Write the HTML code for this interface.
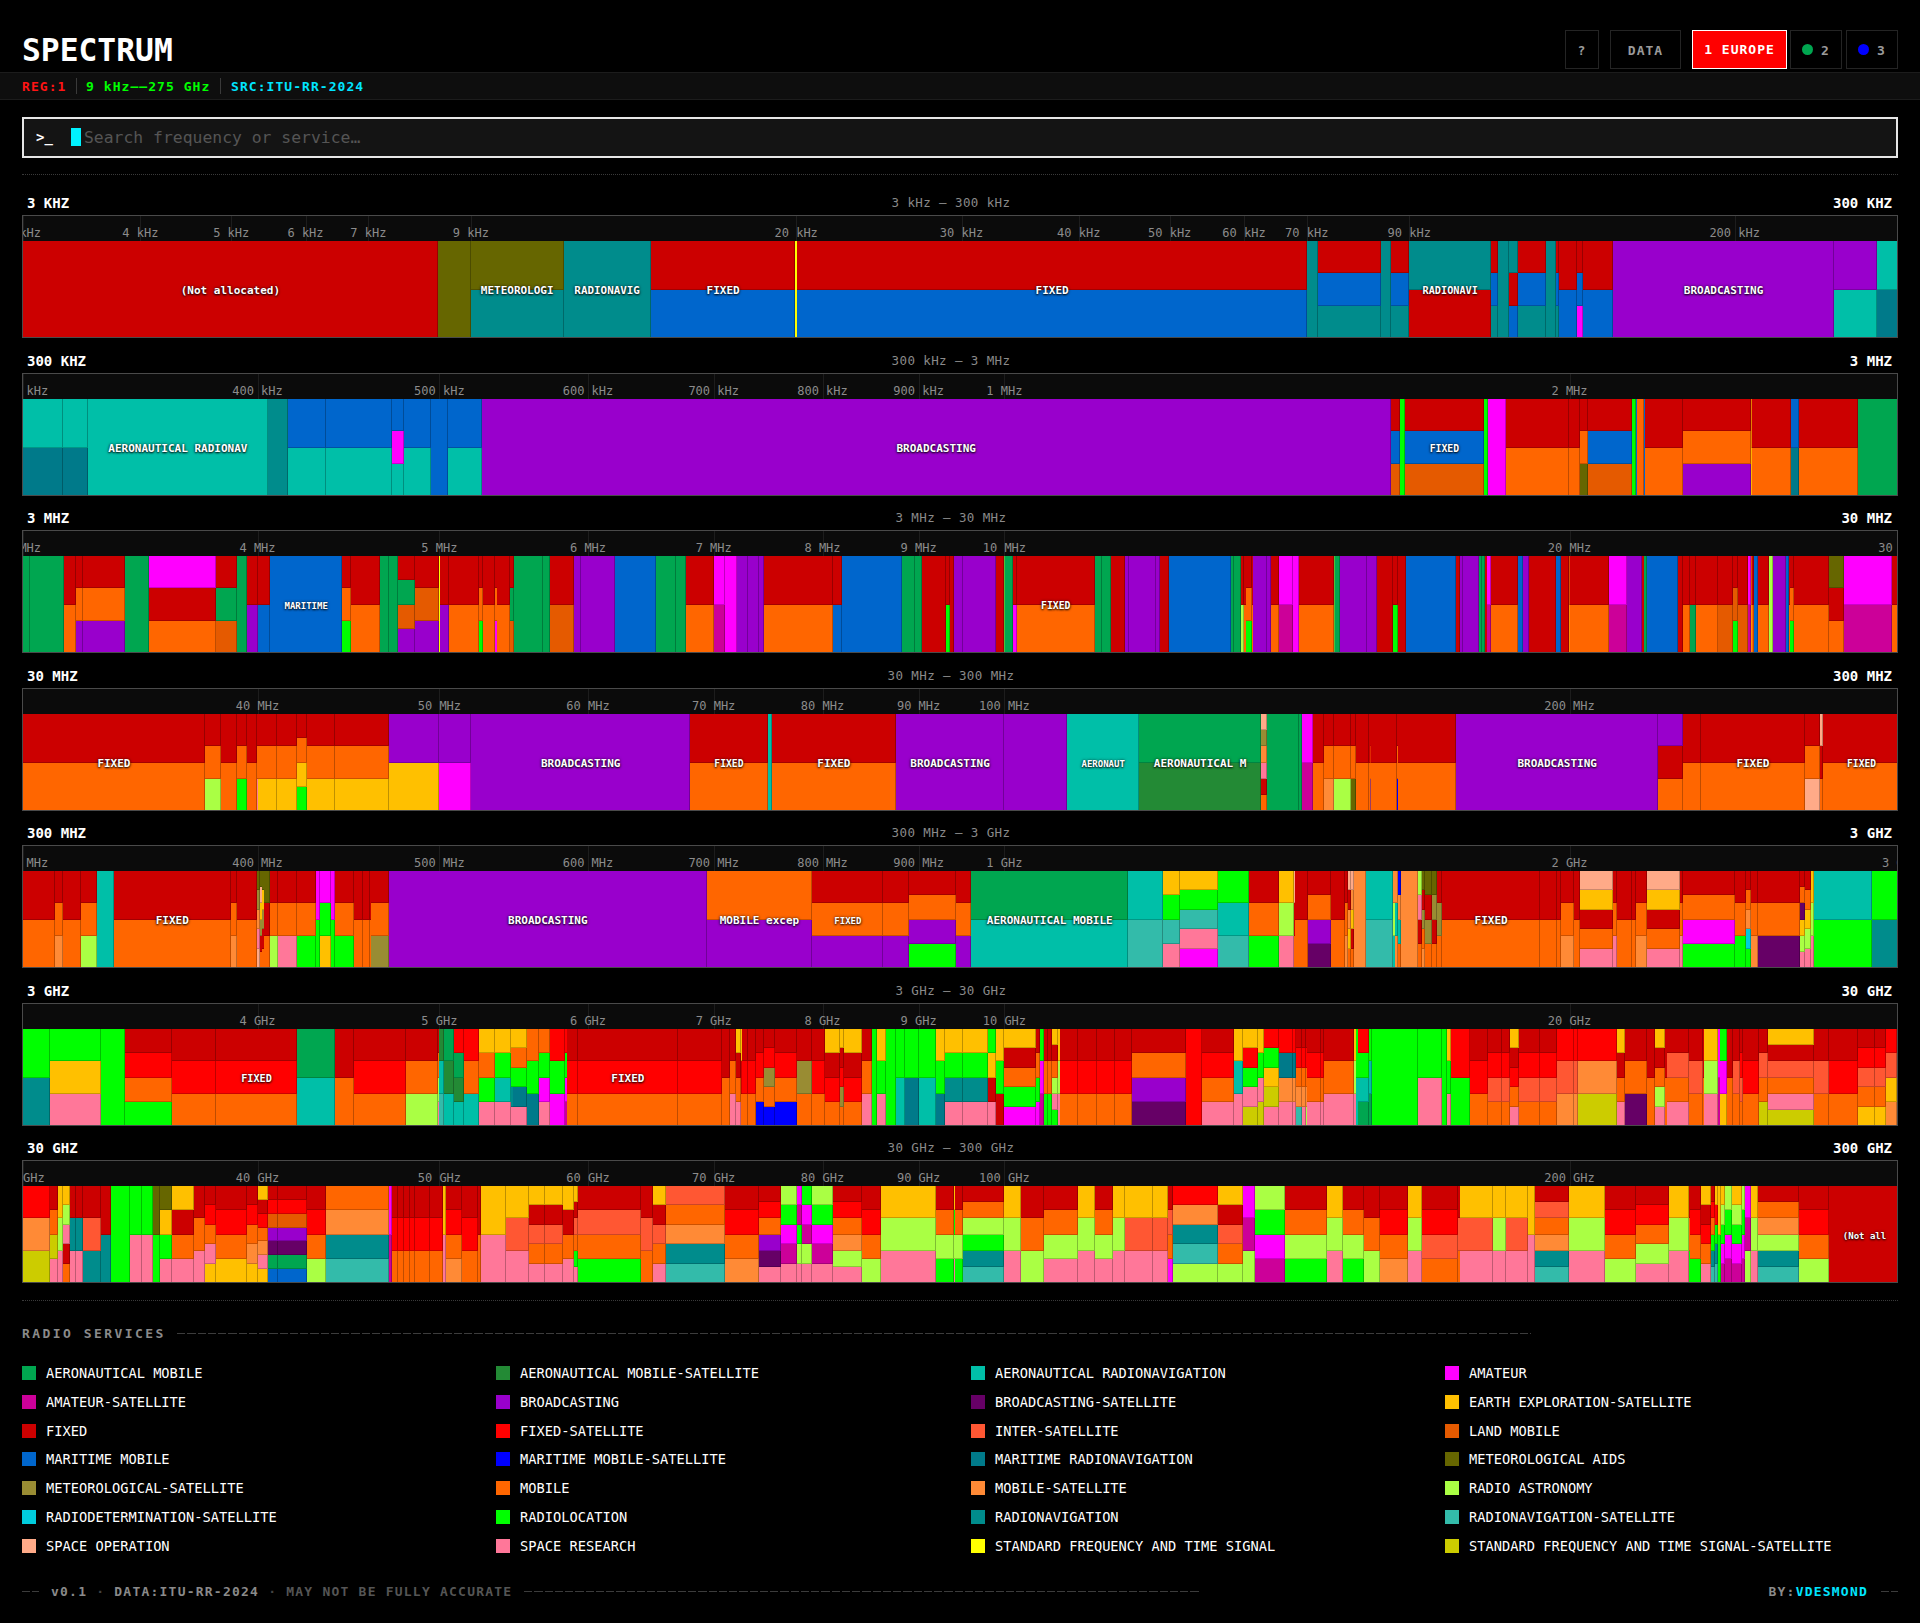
<!DOCTYPE html><html lang="en"><head><meta charset="utf-8"><title>SPECTRUM</title><style>

*{box-sizing:border-box;margin:0;padding:0}
html,body{background:#000;color:#fff;width:1920px;height:1623px;overflow:hidden}
body{font-family:"DejaVu Sans Mono","Liberation Mono",monospace;position:relative;font-size:12px}
.abs{position:absolute}
h1{position:absolute;left:22px;top:30px;font-size:31.3px;line-height:40px;font-weight:700;letter-spacing:0;white-space:nowrap}
.btn{position:absolute;top:30px;height:39px;border:1px solid #242424;background:#000;color:#9a9a9a;font-weight:700;font-size:13px;line-height:39px;text-align:center;letter-spacing:1px;white-space:nowrap}
.btn.on{background:#ff0000;color:#fff;border:1.5px solid #fff}
.dot{display:inline-block;width:11px;height:11px;border-radius:50%;vertical-align:0px;margin-right:8px}
.status{position:absolute;left:0;top:72px;width:1920px;height:28px;background:#0e0e0e;border-top:1px solid #1c1c1c;border-bottom:1px solid #1c1c1c}
.status span{position:absolute;top:0;line-height:28px;font-size:13px;font-weight:700;letter-spacing:1.05px;white-space:nowrap}
.status i{position:absolute;top:5px;width:1px;height:16px;background:#3a3a3a}
.search{position:absolute;left:22px;top:117px;width:1876px;height:41px;border:2px solid #e6e6e6;background:#141414}
.search .p{position:absolute;left:12px;top:0;line-height:37px;font-size:14px;font-weight:700;color:#fff}
.search .c{position:absolute;left:47px;top:9px;width:10px;height:18px;background:#00f2ff}
.search .t{position:absolute;left:60px;top:0;line-height:38px;font-size:16.4px;color:#555;white-space:nowrap}
.dots{position:absolute;left:22px;width:1876px;height:0;border-top:1px dotted #3a3a3a}
.bl{position:absolute;font-size:14px;font-weight:700;letter-spacing:0;line-height:16px;white-space:nowrap;color:#fff}
.bm{position:absolute;font-size:12.5px;letter-spacing:.4px;line-height:16px;white-space:nowrap;color:#8a8a8a;text-align:center;width:300px}
.box{position:absolute;left:22px;width:1876px;height:123px;border:1px solid #4a4a4a;background:#0b0b0b;overflow:hidden}
.ax{position:absolute;left:0;top:0;width:1874px;height:25px;background:#0b0b0b;overflow:hidden}
.tk{position:absolute;top:0;width:1px;height:25px;background:#1d1d1d}
.tl{position:absolute;top:9px;width:80px;margin-left:-40px;text-align:center;font-size:12px;line-height:16px;color:#8c8c8c;white-space:nowrap}
.bk{position:absolute;left:0;top:25px;width:1874px;height:96px;overflow:hidden}
.b{position:absolute;top:0;height:96px;display:flex;flex-direction:column}
.b>i{flex:1 1 0;display:block;border-bottom:1px solid rgba(0,0,0,.2);border-right:1px solid rgba(0,0,0,.25)}
.b.n>i{border-right:0}
.b>i:last-child{border-bottom:0}
.lb{position:absolute;top:0;height:96px;line-height:100px;text-align:center;font-weight:700;color:#fff;white-space:nowrap;text-shadow:0 1px 2px rgba(0,0,0,.9),0 0 3px rgba(0,0,0,.7);overflow:hidden}
.rs{position:absolute;left:22px;top:1326px;font-size:13px;font-weight:700;letter-spacing:2.45px;color:#8a8a8a;line-height:16px;white-space:nowrap}
.dash{position:absolute;height:1px;background:repeating-linear-gradient(90deg,#3c3c3c 0,#3c3c3c 8.3px,transparent 8.3px,transparent 10.25px)}
.lg{position:absolute;white-space:nowrap;font-size:13.7px;line-height:16px;color:#fff;letter-spacing:0}
.lg i{position:absolute;left:0;top:1px;width:14px;height:14px}
.lg span{position:absolute;left:24px;top:0}
.ft{position:absolute;top:1583.6px;font-size:13px;font-weight:700;letter-spacing:1.22px;line-height:16px;white-space:nowrap}

</style></head><body>
<h1>SPECTRUM</h1>
<div class="btn" style="left:1565px;width:34px">?</div>
<div class="btn" style="left:1610px;width:71px">DATA</div>
<div class="btn on" style="left:1692px;width:95px;line-height:38px">1 EUROPE</div>
<div class="btn" style="left:1790px;width:52px"><span class="dot" style="background:#00a650"></span>2</div>
<div class="btn" style="left:1846px;width:52px"><span class="dot" style="background:#0000ff"></span>3</div>
<div class="status"><span style="left:22px;color:#ff1414">REG:1</span><i style="left:76px"></i><span style="left:86px;color:#00ff00">9 kHz——275 GHz</span><i style="left:220px"></i><span style="left:231px;color:#00e5ff">SRC:ITU-RR-2024</span></div>
<div class="search"><span class="p">&gt;_</span><span class="c"></span><span class="t">Search frequency or service…</span></div>
<div class="dots" style="top:174px"></div>
<div class="bl" style="left:27px;top:194.5px">3 KHZ</div>
<div class="bm" style="left:801px;top:194.5px">3 kHz – 300 kHz</div>
<div class="bl" style="right:28px;top:194.5px;text-align:right">300 KHZ</div>
<div class="box" style="top:215px">
<div class="ax">
<b class="tk" style="left:0.0px"></b><span class="tl" style="left:0.0px">3 kHz</span>
<b class="tk" style="left:117.3px"></b><span class="tl" style="left:117.3px">4 kHz</span>
<b class="tk" style="left:208.2px"></b><span class="tl" style="left:208.2px">5 kHz</span>
<b class="tk" style="left:282.5px"></b><span class="tl" style="left:282.5px">6 kHz</span>
<b class="tk" style="left:345.3px"></b><span class="tl" style="left:345.3px">7 kHz</span>
<b class="tk" style="left:447.8px"></b><span class="tl" style="left:447.8px">9 kHz</span>
<b class="tk" style="left:773.2px"></b><span class="tl" style="left:773.2px">20 kHz</span>
<b class="tk" style="left:938.5px"></b><span class="tl" style="left:938.5px">30 kHz</span>
<b class="tk" style="left:1055.8px"></b><span class="tl" style="left:1055.8px">40 kHz</span>
<b class="tk" style="left:1146.7px"></b><span class="tl" style="left:1146.7px">50 kHz</span>
<b class="tk" style="left:1221.0px"></b><span class="tl" style="left:1221.0px">60 kHz</span>
<b class="tk" style="left:1283.8px"></b><span class="tl" style="left:1283.8px">70 kHz</span>
<b class="tk" style="left:1386.3px"></b><span class="tl" style="left:1386.3px">90 kHz</span>
<b class="tk" style="left:1711.7px"></b><span class="tl" style="left:1711.7px">200 kHz</span>
</div><div class="bk">
<div class="b" style="left:0px;width:415px"><i style="background:#cc0000"></i></div>
<div class="b" style="left:415px;width:33px"><i style="background:#666600"></i></div>
<div class="b" style="left:448px;width:93px"><i style="background:#666600"></i><i style="background:#008c8c"></i></div>
<div class="b" style="left:541px;width:87px"><i style="background:#008c8c"></i></div>
<div class="b" style="left:628px;width:144px"><i style="background:#cc0000"></i><i style="background:#0066cc"></i></div>
<div class="b n" style="left:772px;width:2px"><i style="background:#ffff00"></i></div>
<div class="b" style="left:774px;width:510px"><i style="background:#cc0000"></i><i style="background:#0066cc"></i></div>
<div class="b" style="left:1284px;width:11px"><i style="background:#008c8c"></i></div>
<div class="b" style="left:1295px;width:63px"><i style="background:#cc0000"></i><i style="background:#0066cc"></i><i style="background:#008c8c"></i></div>
<div class="b" style="left:1358px;width:10px"><i style="background:#008c8c"></i></div>
<div class="b" style="left:1368px;width:18px"><i style="background:#cc0000"></i><i style="background:#0066cc"></i><i style="background:#008c8c"></i></div>
<div class="b" style="left:1386px;width:82px"><i style="background:#008c8c"></i><i style="background:#cc0000"></i></div>
<div class="b" style="left:1468px;width:7px"><i style="background:#cc0000"></i><i style="background:#0066cc"></i><i style="background:#008c8c"></i></div>
<div class="b" style="left:1475px;width:11px"><i style="background:#008c8c"></i></div>
<div class="b" style="left:1486px;width:9px"><i style="background:#008c8c"></i><i style="background:#cc0000"></i><i style="background:#0066cc"></i></div>
<div class="b" style="left:1495px;width:28px"><i style="background:#cc0000"></i><i style="background:#0066cc"></i><i style="background:#008c8c"></i></div>
<div class="b" style="left:1523px;width:10px"><i style="background:#008c8c"></i></div>
<div class="b" style="left:1533px;width:3px"><i style="background:#cc0000"></i><i style="background:#0066cc"></i><i style="background:#008c8c"></i></div>
<div class="b" style="left:1536px;width:18px"><i style="background:#cc0000"></i><i style="background:#0066cc"></i></div>
<div class="b" style="left:1554px;width:6px"><i style="background:#cc0000"></i><i style="background:#0066cc"></i><i style="background:#ff00ff"></i></div>
<div class="b" style="left:1560px;width:30px"><i style="background:#cc0000"></i><i style="background:#0066cc"></i></div>
<div class="b" style="left:1590px;width:221px"><i style="background:#9900cc"></i></div>
<div class="b" style="left:1811px;width:43px"><i style="background:#9900cc"></i><i style="background:#00bfa8"></i></div>
<div class="b" style="left:1854px;width:43px"><i style="background:#00bfa8"></i><i style="background:#007a8a"></i></div>
<div class="lb" style="left:0.0px;width:414.8px;font-size:11.0px">(Not allocated)</div>
<div class="lb" style="left:447.8px;width:92.8px;font-size:11.0px">METEOROLOGI</div>
<div class="lb" style="left:540.5px;width:87.3px;font-size:10.9px">RADIONAVIG</div>
<div class="lb" style="left:627.9px;width:144.4px;font-size:11.0px">FIXED</div>
<div class="lb" style="left:774.3px;width:509.6px;font-size:11.0px">FIXED</div>
<div class="lb" style="left:1386.3px;width:81.8px;font-size:10.2px">RADIONAVI</div>
<div class="lb" style="left:1590.4px;width:220.4px;font-size:11.0px">BROADCASTING</div>
</div></div>
<div class="bl" style="left:27px;top:352.5px">300 KHZ</div>
<div class="bm" style="left:801px;top:352.5px">300 kHz – 3 MHz</div>
<div class="bl" style="right:28px;top:352.5px;text-align:right">3 MHZ</div>
<div class="box" style="top:373px">
<div class="ax">
<b class="tk" style="left:0.0px"></b><span class="tl" style="left:0.0px">300 kHz</span>
<b class="tk" style="left:234.5px"></b><span class="tl" style="left:234.5px">400 kHz</span>
<b class="tk" style="left:416.4px"></b><span class="tl" style="left:416.4px">500 kHz</span>
<b class="tk" style="left:565.0px"></b><span class="tl" style="left:565.0px">600 kHz</span>
<b class="tk" style="left:690.7px"></b><span class="tl" style="left:690.7px">700 kHz</span>
<b class="tk" style="left:799.5px"></b><span class="tl" style="left:799.5px">800 kHz</span>
<b class="tk" style="left:895.6px"></b><span class="tl" style="left:895.6px">900 kHz</span>
<b class="tk" style="left:981.4px"></b><span class="tl" style="left:981.4px">1 MHz</span>
<b class="tk" style="left:1546.5px"></b><span class="tl" style="left:1546.5px">2 MHz</span>
</div><div class="bk">
<div class="b" style="left:0px;width:40px"><i style="background:#00bfa8"></i><i style="background:#007a8a"></i></div>
<div class="b" style="left:40px;width:25px"><i style="background:#00bfa8"></i><i style="background:#007a8a"></i></div>
<div class="b" style="left:65px;width:180px"><i style="background:#00bfa8"></i></div>
<div class="b" style="left:245px;width:20px"><i style="background:#008c8c"></i></div>
<div class="b" style="left:265px;width:38px"><i style="background:#0066cc"></i><i style="background:#00bfa8"></i></div>
<div class="b" style="left:303px;width:66px"><i style="background:#0066cc"></i><i style="background:#00bfa8"></i></div>
<div class="b" style="left:369px;width:12px"><i style="background:#0066cc"></i><i style="background:#ff00ff"></i><i style="background:#00bfa8"></i></div>
<div class="b" style="left:381px;width:27px"><i style="background:#0066cc"></i><i style="background:#00bfa8"></i></div>
<div class="b" style="left:408px;width:17px"><i style="background:#0066cc"></i></div>
<div class="b" style="left:425px;width:34px"><i style="background:#0066cc"></i><i style="background:#00bfa8"></i></div>
<div class="b" style="left:459px;width:909px"><i style="background:#9900cc"></i></div>
<div class="b" style="left:1368px;width:9px"><i style="background:#cc0000"></i><i style="background:#0066cc"></i><i style="background:#e55a00"></i></div>
<div class="b" style="left:1377px;width:5px"><i style="background:#00ff00"></i></div>
<div class="b" style="left:1382px;width:79px"><i style="background:#cc0000"></i><i style="background:#0066cc"></i><i style="background:#e55a00"></i></div>
<div class="b" style="left:1461px;width:4px"><i style="background:#00ff00"></i></div>
<div class="b" style="left:1465px;width:18px"><i style="background:#ff00ff"></i></div>
<div class="b" style="left:1483px;width:63px"><i style="background:#cc0000"></i><i style="background:#ff6600"></i></div>
<div class="b" style="left:1546px;width:11px"><i style="background:#cc0000"></i><i style="background:#ff6600"></i></div>
<div class="b" style="left:1557px;width:8px"><i style="background:#cc0000"></i><i style="background:#ff6600"></i><i style="background:#666600"></i></div>
<div class="b" style="left:1565px;width:44px"><i style="background:#cc0000"></i><i style="background:#0066cc"></i><i style="background:#e55a00"></i></div>
<div class="b" style="left:1609px;width:4px"><i style="background:#00ff00"></i></div>
<div class="b n" style="left:1613px;width:1px"><i style="background:#0066cc"></i></div>
<div class="b" style="left:1614px;width:7px"><i style="background:#ff6600"></i></div>
<div class="b n" style="left:1621px;width:1px"><i style="background:#0066cc"></i></div>
<div class="b" style="left:1622px;width:38px"><i style="background:#cc0000"></i><i style="background:#ff6600"></i></div>
<div class="b" style="left:1660px;width:68px"><i style="background:#cc0000"></i><i style="background:#ff6600"></i><i style="background:#9900cc"></i></div>
<div class="b" style="left:1728px;width:40px"><i style="background:#cc0000"></i><i style="background:#ff6600"></i></div>
<div class="b" style="left:1768px;width:8px"><i style="background:#0066cc"></i><i style="background:#007a8a"></i></div>
<div class="b" style="left:1776px;width:59px"><i style="background:#cc0000"></i><i style="background:#ff6600"></i></div>
<div class="b" style="left:1835px;width:49px"><i style="background:#00a650"></i></div>
<div class="b n" style="left:1728px;width:1px;opacity:0.50"><i style="background:#ffff00"></i></div>
<div class="lb" style="left:65.2px;width:179.4px;font-size:11.0px">AERONAUTICAL RADIONAV</div>
<div class="lb" style="left:458.5px;width:909.4px;font-size:11.0px">BROADCASTING</div>
<div class="lb" style="left:1382.2px;width:78.4px;font-size:9.8px">FIXED</div>
</div></div>
<div class="bl" style="left:27px;top:509.5px">3 MHZ</div>
<div class="bm" style="left:801px;top:509.5px">3 MHz – 30 MHz</div>
<div class="bl" style="right:28px;top:509.5px;text-align:right">30 MHZ</div>
<div class="box" style="top:530px">
<div class="ax">
<b class="tk" style="left:0.0px"></b><span class="tl" style="left:0.0px">3 MHz</span>
<b class="tk" style="left:234.5px"></b><span class="tl" style="left:234.5px">4 MHz</span>
<b class="tk" style="left:416.4px"></b><span class="tl" style="left:416.4px">5 MHz</span>
<b class="tk" style="left:565.0px"></b><span class="tl" style="left:565.0px">6 MHz</span>
<b class="tk" style="left:690.7px"></b><span class="tl" style="left:690.7px">7 MHz</span>
<b class="tk" style="left:799.5px"></b><span class="tl" style="left:799.5px">8 MHz</span>
<b class="tk" style="left:895.6px"></b><span class="tl" style="left:895.6px">9 MHz</span>
<b class="tk" style="left:981.4px"></b><span class="tl" style="left:981.4px">10 MHz</span>
<b class="tk" style="left:1546.5px"></b><span class="tl" style="left:1546.5px">20 MHz</span>
<b class="tk" style="left:1877.0px"></b><span class="tl" style="left:1877.0px">30 MHz</span>
</div><div class="bk">
<div class="b" style="left:0px;width:7px"><i style="background:#00a650"></i></div>
<div class="b" style="left:7px;width:34px"><i style="background:#00a650"></i></div>
<div class="b" style="left:41px;width:12px"><i style="background:#cc0000"></i><i style="background:#ff6600"></i></div>
<div class="b" style="left:53px;width:7px"><i style="background:#cc0000"></i><i style="background:#ff6600"></i><i style="background:#9900cc"></i></div>
<div class="b" style="left:60px;width:42px"><i style="background:#cc0000"></i><i style="background:#ff6600"></i><i style="background:#9900cc"></i></div>
<div class="b" style="left:102px;width:24px"><i style="background:#00a650"></i></div>
<div class="b" style="left:126px;width:67px"><i style="background:#ff00ff"></i><i style="background:#cc0000"></i><i style="background:#ff6600"></i></div>
<div class="b" style="left:193px;width:21px"><i style="background:#cc0000"></i><i style="background:#00a650"></i><i style="background:#e55a00"></i></div>
<div class="b" style="left:214px;width:10px"><i style="background:#00a650"></i></div>
<div class="b" style="left:224px;width:11px"><i style="background:#cc0000"></i><i style="background:#9900cc"></i></div>
<div class="b" style="left:235px;width:12px"><i style="background:#cc0000"></i><i style="background:#0066cc"></i></div>
<div class="b" style="left:247px;width:72px"><i style="background:#0066cc"></i></div>
<div class="b" style="left:319px;width:9px"><i style="background:#cc0000"></i><i style="background:#ff6600"></i><i style="background:#00ff00"></i></div>
<div class="b" style="left:328px;width:29px"><i style="background:#cc0000"></i><i style="background:#ff6600"></i></div>
<div class="b" style="left:357px;width:9px"><i style="background:#00a650"></i></div>
<div class="b" style="left:366px;width:9px"><i style="background:#00a650"></i></div>
<div class="b" style="left:375px;width:17px"><i style="background:#cc0000"></i><i style="background:#00a650"></i><i style="background:#e55a00"></i><i style="background:#9900cc"></i></div>
<div class="b" style="left:392px;width:24px"><i style="background:#cc0000"></i><i style="background:#e55a00"></i><i style="background:#9900cc"></i></div>
<div class="b n" style="left:416px;width:1px"><i style="background:#ffff00"></i></div>
<div class="b" style="left:417px;width:9px"><i style="background:#cc0000"></i><i style="background:#9900cc"></i></div>
<div class="b" style="left:426px;width:30px"><i style="background:#cc0000"></i><i style="background:#ff6600"></i></div>
<div class="b" style="left:456px;width:4px"><i style="background:#cc0000"></i><i style="background:#ff6600"></i><i style="background:#00ff00"></i></div>
<div class="b" style="left:460px;width:12px"><i style="background:#cc0000"></i><i style="background:#ff6600"></i></div>
<div class="b n" style="left:472px;width:2px"><i style="background:#cc0000"></i><i style="background:#ff6600"></i><i style="background:#ff00ff"></i></div>
<div class="b" style="left:474px;width:13px"><i style="background:#cc0000"></i><i style="background:#ff6600"></i></div>
<div class="b" style="left:487px;width:4px"><i style="background:#cc0000"></i><i style="background:#00a650"></i><i style="background:#e55a00"></i></div>
<div class="b" style="left:491px;width:29px"><i style="background:#00a650"></i></div>
<div class="b" style="left:520px;width:7px"><i style="background:#00a650"></i></div>
<div class="b" style="left:527px;width:24px"><i style="background:#cc0000"></i><i style="background:#e55a00"></i></div>
<div class="b" style="left:551px;width:7px"><i style="background:#9900cc"></i></div>
<div class="b" style="left:558px;width:34px"><i style="background:#9900cc"></i></div>
<div class="b" style="left:592px;width:41px"><i style="background:#0066cc"></i></div>
<div class="b" style="left:633px;width:20px"><i style="background:#00a650"></i></div>
<div class="b" style="left:653px;width:10px"><i style="background:#00a650"></i></div>
<div class="b" style="left:663px;width:28px"><i style="background:#cc0000"></i><i style="background:#ff6600"></i></div>
<div class="b" style="left:691px;width:11px"><i style="background:#ff00ff"></i><i style="background:#cc0099"></i></div>
<div class="b" style="left:702px;width:12px"><i style="background:#ff00ff"></i></div>
<div class="b" style="left:714px;width:11px"><i style="background:#9900cc"></i></div>
<div class="b" style="left:725px;width:11px"><i style="background:#9900cc"></i></div>
<div class="b" style="left:736px;width:5px"><i style="background:#9900cc"></i></div>
<div class="b" style="left:741px;width:69px"><i style="background:#cc0000"></i><i style="background:#ff6600"></i></div>
<div class="b" style="left:810px;width:9px"><i style="background:#cc0000"></i><i style="background:#0066cc"></i></div>
<div class="b" style="left:819px;width:60px"><i style="background:#0066cc"></i></div>
<div class="b" style="left:879px;width:13px"><i style="background:#00a650"></i></div>
<div class="b" style="left:892px;width:7px"><i style="background:#00a650"></i></div>
<div class="b" style="left:899px;width:24px"><i style="background:#cc0000"></i></div>
<div class="b" style="left:923px;width:4px"><i style="background:#cc0000"></i><i style="background:#00ff00"></i></div>
<div class="b" style="left:927px;width:4px"><i style="background:#cc0000"></i></div>
<div class="b" style="left:931px;width:9px"><i style="background:#9900cc"></i></div>
<div class="b" style="left:940px;width:33px"><i style="background:#9900cc"></i></div>
<div class="b" style="left:973px;width:8px"><i style="background:#cc0000"></i></div>
<div class="b" style="left:981px;width:9px"><i style="background:#00a650"></i></div>
<div class="b" style="left:990px;width:4px"><i style="background:#cc0000"></i><i style="background:#ff00ff"></i></div>
<div class="b" style="left:994px;width:78px"><i style="background:#cc0000"></i><i style="background:#ff6600"></i></div>
<div class="b" style="left:1072px;width:7px"><i style="background:#00a650"></i></div>
<div class="b" style="left:1079px;width:9px"><i style="background:#00a650"></i></div>
<div class="b" style="left:1088px;width:14px"><i style="background:#cc0000"></i></div>
<div class="b" style="left:1102px;width:4px"><i style="background:#9900cc"></i></div>
<div class="b" style="left:1106px;width:27px"><i style="background:#9900cc"></i></div>
<div class="b" style="left:1133px;width:4px"><i style="background:#9900cc"></i></div>
<div class="b" style="left:1137px;width:9px"><i style="background:#cc0000"></i></div>
<div class="b" style="left:1146px;width:62px"><i style="background:#0066cc"></i></div>
<div class="b" style="left:1208px;width:3px"><i style="background:#00a650"></i></div>
<div class="b" style="left:1211px;width:7px"><i style="background:#00a650"></i></div>
<div class="b" style="left:1218px;width:3px"><i style="background:#cc0000"></i><i style="background:#aaff44"></i></div>
<div class="b n" style="left:1221px;width:2px"><i style="background:#cc0000"></i><i style="background:#ff6600"></i></div>
<div class="b" style="left:1223px;width:6px"><i style="background:#cc0000"></i><i style="background:#ff6600"></i><i style="background:#00ff00"></i></div>
<div class="b n" style="left:1229px;width:1px"><i style="background:#cc0000"></i><i style="background:#ff6600"></i></div>
<div class="b n" style="left:1230px;width:2px"><i style="background:#9900cc"></i></div>
<div class="b" style="left:1232px;width:12px"><i style="background:#9900cc"></i></div>
<div class="b" style="left:1244px;width:4px"><i style="background:#9900cc"></i></div>
<div class="b" style="left:1248px;width:8px"><i style="background:#cc0000"></i><i style="background:#ff6600"></i></div>
<div class="b" style="left:1256px;width:14px"><i style="background:#ff00ff"></i><i style="background:#cc0099"></i></div>
<div class="b" style="left:1270px;width:6px"><i style="background:#ff00ff"></i></div>
<div class="b" style="left:1276px;width:35px"><i style="background:#cc0000"></i><i style="background:#ff6600"></i></div>
<div class="b" style="left:1311px;width:6px"><i style="background:#00a650"></i></div>
<div class="b" style="left:1317px;width:27px"><i style="background:#9900cc"></i></div>
<div class="b" style="left:1344px;width:10px"><i style="background:#9900cc"></i></div>
<div class="b" style="left:1354px;width:16px"><i style="background:#cc0000"></i></div>
<div class="b" style="left:1370px;width:5px"><i style="background:#cc0000"></i><i style="background:#00ff00"></i></div>
<div class="b" style="left:1375px;width:8px"><i style="background:#cc0000"></i></div>
<div class="b" style="left:1383px;width:50px"><i style="background:#0066cc"></i></div>
<div class="b" style="left:1433px;width:4px"><i style="background:#cc0000"></i></div>
<div class="b" style="left:1437px;width:3px"><i style="background:#9900cc"></i></div>
<div class="b" style="left:1440px;width:16px"><i style="background:#9900cc"></i></div>
<div class="b" style="left:1456px;width:3px"><i style="background:#00a650"></i></div>
<div class="b" style="left:1459px;width:3px"><i style="background:#00a650"></i></div>
<div class="b n" style="left:1462px;width:2px"><i style="background:#cc0000"></i></div>
<div class="b" style="left:1464px;width:4px"><i style="background:#ff00ff"></i><i style="background:#cc0099"></i></div>
<div class="b" style="left:1468px;width:27px"><i style="background:#cc0000"></i><i style="background:#ff6600"></i></div>
<div class="b" style="left:1495px;width:5px"><i style="background:#0066cc"></i></div>
<div class="b" style="left:1500px;width:6px"><i style="background:#9900cc"></i></div>
<div class="b" style="left:1506px;width:27px"><i style="background:#cc0000"></i></div>
<div class="b" style="left:1533px;width:5px"><i style="background:#0066cc"></i></div>
<div class="b" style="left:1538px;width:8px"><i style="background:#cc0000"></i></div>
<div class="b" style="left:1546px;width:40px"><i style="background:#cc0000"></i><i style="background:#ff6600"></i></div>
<div class="b" style="left:1586px;width:18px"><i style="background:#ff00ff"></i><i style="background:#cc0099"></i></div>
<div class="b" style="left:1604px;width:15px"><i style="background:#9900cc"></i></div>
<div class="b n" style="left:1619px;width:2px"><i style="background:#cc0000"></i></div>
<div class="b" style="left:1621px;width:3px"><i style="background:#00a650"></i></div>
<div class="b" style="left:1624px;width:31px"><i style="background:#0066cc"></i></div>
<div class="b" style="left:1655px;width:5px"><i style="background:#cc0000"></i></div>
<div class="b" style="left:1660px;width:7px"><i style="background:#cc0000"></i><i style="background:#ff6600"></i></div>
<div class="b" style="left:1667px;width:6px"><i style="background:#cc0000"></i><i style="background:#00a650"></i></div>
<div class="b" style="left:1673px;width:22px"><i style="background:#cc0000"></i><i style="background:#ff6600"></i></div>
<div class="b" style="left:1695px;width:15px"><i style="background:#cc0000"></i><i style="background:#e55a00"></i></div>
<div class="b" style="left:1710px;width:5px"><i style="background:#cc0000"></i><i style="background:#e55a00"></i><i style="background:#00ff00"></i></div>
<div class="b" style="left:1715px;width:10px"><i style="background:#cc0000"></i><i style="background:#e55a00"></i></div>
<div class="b" style="left:1725px;width:3px"><i style="background:#ff00ff"></i><i style="background:#cc0099"></i></div>
<div class="b" style="left:1728px;width:3px"><i style="background:#cc0000"></i><i style="background:#ff6600"></i></div>
<div class="b" style="left:1731px;width:4px"><i style="background:#0066cc"></i></div>
<div class="b" style="left:1735px;width:11px"><i style="background:#cc0000"></i><i style="background:#ff6600"></i></div>
<div class="b" style="left:1746px;width:4px"><i style="background:#aaff44"></i></div>
<div class="b" style="left:1750px;width:13px"><i style="background:#9900cc"></i></div>
<div class="b" style="left:1763px;width:3px"><i style="background:#0066cc"></i></div>
<div class="b n" style="left:1766px;width:1px"><i style="background:#cc0000"></i><i style="background:#ff6600"></i></div>
<div class="b" style="left:1767px;width:4px"><i style="background:#cc0000"></i><i style="background:#ff6600"></i><i style="background:#00ff00"></i></div>
<div class="b" style="left:1771px;width:35px"><i style="background:#cc0000"></i><i style="background:#ff6600"></i></div>
<div class="b" style="left:1806px;width:15px"><i style="background:#666600"></i><i style="background:#cc0000"></i><i style="background:#ff6600"></i></div>
<div class="b" style="left:1821px;width:48px"><i style="background:#ff00ff"></i><i style="background:#cc0099"></i></div>
<div class="b" style="left:1869px;width:8px"><i style="background:#cc0000"></i><i style="background:#ff6600"></i></div>
<div class="b n" style="left:981px;width:1px;opacity:0.30"><i style="background:#ffff00"></i></div>
<div class="b n" style="left:1311px;width:1px;opacity:0.30"><i style="background:#ffff00"></i></div>
<div class="b n" style="left:1546px;width:1px;opacity:0.30"><i style="background:#ffff00"></i></div>
<div class="b n" style="left:1728px;width:1px;opacity:0.30"><i style="background:#ffff00"></i></div>
<div class="lb" style="left:247.2px;width:72.0px;font-size:9.0px">MARITIME</div>
<div class="lb" style="left:993.6px;width:78.4px;font-size:9.8px">FIXED</div>
</div></div>
<div class="bl" style="left:27px;top:667.5px">30 MHZ</div>
<div class="bm" style="left:801px;top:667.5px">30 MHz – 300 MHz</div>
<div class="bl" style="right:28px;top:667.5px;text-align:right">300 MHZ</div>
<div class="box" style="top:688px">
<div class="ax">
<b class="tk" style="left:234.5px"></b><span class="tl" style="left:234.5px">40 MHz</span>
<b class="tk" style="left:416.4px"></b><span class="tl" style="left:416.4px">50 MHz</span>
<b class="tk" style="left:565.0px"></b><span class="tl" style="left:565.0px">60 MHz</span>
<b class="tk" style="left:690.7px"></b><span class="tl" style="left:690.7px">70 MHz</span>
<b class="tk" style="left:799.5px"></b><span class="tl" style="left:799.5px">80 MHz</span>
<b class="tk" style="left:895.6px"></b><span class="tl" style="left:895.6px">90 MHz</span>
<b class="tk" style="left:981.4px"></b><span class="tl" style="left:981.4px">100 MHz</span>
<b class="tk" style="left:1546.5px"></b><span class="tl" style="left:1546.5px">200 MHz</span>
</div><div class="bk">
<div class="b" style="left:0px;width:182px"><i style="background:#cc0000"></i><i style="background:#ff6600"></i></div>
<div class="b" style="left:182px;width:16px"><i style="background:#cc0000"></i><i style="background:#ff6600"></i><i style="background:#aaff44"></i></div>
<div class="b" style="left:198px;width:16px"><i style="background:#cc0000"></i><i style="background:#ff6600"></i></div>
<div class="b" style="left:214px;width:10px"><i style="background:#cc0000"></i><i style="background:#ff6600"></i><i style="background:#00ff00"></i></div>
<div class="b" style="left:224px;width:10px"><i style="background:#cc0000"></i><i style="background:#ff6600"></i></div>
<div class="b n" style="left:234px;width:1px"><i style="background:#cc0000"></i><i style="background:#ff6600"></i><i style="background:#ff7799"></i></div>
<div class="b" style="left:235px;width:19px"><i style="background:#cc0000"></i><i style="background:#ff6600"></i><i style="background:#ffc000"></i></div>
<div class="b" style="left:254px;width:20px"><i style="background:#cc0000"></i><i style="background:#ff6600"></i><i style="background:#ffc000"></i></div>
<div class="b" style="left:274px;width:10px"><i style="background:#cc0000"></i><i style="background:#ff6600"></i><i style="background:#ffc000"></i><i style="background:#00ff00"></i></div>
<div class="b" style="left:284px;width:28px"><i style="background:#cc0000"></i><i style="background:#ff6600"></i><i style="background:#ffc000"></i></div>
<div class="b" style="left:312px;width:54px"><i style="background:#cc0000"></i><i style="background:#ff6600"></i><i style="background:#ffc000"></i></div>
<div class="b" style="left:366px;width:50px"><i style="background:#9900cc"></i><i style="background:#ffc000"></i></div>
<div class="b" style="left:416px;width:32px"><i style="background:#9900cc"></i><i style="background:#ff00ff"></i></div>
<div class="b" style="left:448px;width:219px"><i style="background:#9900cc"></i></div>
<div class="b" style="left:667px;width:78px"><i style="background:#cc0000"></i><i style="background:#ff6600"></i></div>
<div class="b" style="left:745px;width:4px"><i style="background:#00bfa8"></i></div>
<div class="b" style="left:749px;width:124px"><i style="background:#cc0000"></i><i style="background:#ff6600"></i></div>
<div class="b" style="left:873px;width:108px"><i style="background:#9900cc"></i></div>
<div class="b" style="left:981px;width:63px"><i style="background:#9900cc"></i></div>
<div class="b" style="left:1044px;width:72px"><i style="background:#00bfa8"></i></div>
<div class="b" style="left:1116px;width:122px"><i style="background:#00a650"></i><i style="background:#238a35"></i></div>
<div class="b" style="left:1238px;width:6px"><i style="background:#ffaa88"></i><i style="background:#998c33"></i><i style="background:#ff8a36"></i><i style="background:#ff7799"></i><i style="background:#cc0000"></i><i style="background:#ff6600"></i></div>
<div class="b" style="left:1244px;width:32px"><i style="background:#00a650"></i></div>
<div class="b" style="left:1276px;width:3px"><i style="background:#00a650"></i></div>
<div class="b" style="left:1279px;width:11px"><i style="background:#ff00ff"></i><i style="background:#cc0099"></i></div>
<div class="b" style="left:1290px;width:11px"><i style="background:#cc0000"></i><i style="background:#ff6600"></i></div>
<div class="b" style="left:1301px;width:10px"><i style="background:#cc0000"></i><i style="background:#ff6600"></i><i style="background:#ff8a36"></i></div>
<div class="b" style="left:1311px;width:17px"><i style="background:#cc0000"></i><i style="background:#ff6600"></i><i style="background:#aaff44"></i></div>
<div class="b" style="left:1328px;width:5px"><i style="background:#cc0000"></i><i style="background:#ff6600"></i><i style="background:#666600"></i></div>
<div class="b" style="left:1333px;width:13px"><i style="background:#cc0000"></i><i style="background:#ff6600"></i></div>
<div class="b n" style="left:1346px;width:2px"><i style="background:#cc0000"></i><i style="background:#ff6600"></i></div>
<div class="b" style="left:1348px;width:26px"><i style="background:#cc0000"></i><i style="background:#ff6600"></i></div>
<div class="b n" style="left:1374px;width:1px"><i style="background:#cc0000"></i><i style="background:#ff6600"></i><i style="background:#0000ff"></i></div>
<div class="b" style="left:1375px;width:58px"><i style="background:#cc0000"></i><i style="background:#ff6600"></i></div>
<div class="b" style="left:1433px;width:202px"><i style="background:#9900cc"></i></div>
<div class="b" style="left:1635px;width:25px"><i style="background:#9900cc"></i><i style="background:#cc0000"></i><i style="background:#ff6600"></i></div>
<div class="b" style="left:1660px;width:18px"><i style="background:#cc0000"></i><i style="background:#ff6600"></i></div>
<div class="b" style="left:1678px;width:104px"><i style="background:#cc0000"></i><i style="background:#ff6600"></i></div>
<div class="b" style="left:1782px;width:15px"><i style="background:#cc0000"></i><i style="background:#ff6600"></i><i style="background:#ffaa88"></i></div>
<div class="b" style="left:1797px;width:3px"><i style="background:#ffaa88"></i><i style="background:#cc0000"></i><i style="background:#ff6600"></i></div>
<div class="b" style="left:1800px;width:109px"><i style="background:#cc0000"></i><i style="background:#ff6600"></i></div>
<div class="b n" style="left:1347px;width:1px;opacity:0.40"><i style="background:#cc0000"></i><i style="background:#ff6600"></i><i style="background:#0000ff"></i></div>
<div class="lb" style="left:0.0px;width:181.9px;font-size:11.0px">FIXED</div>
<div class="lb" style="left:448.4px;width:218.7px;font-size:11.0px">BROADCASTING</div>
<div class="lb" style="left:667.1px;width:77.7px;font-size:9.7px">FIXED</div>
<div class="lb" style="left:749.1px;width:123.5px;font-size:11.0px">FIXED</div>
<div class="lb" style="left:872.6px;width:108.9px;font-size:11.0px">BROADCASTING</div>
<div class="lb" style="left:1044.2px;width:72.0px;font-size:9.0px">AERONAUT</div>
<div class="lb" style="left:1116.2px;width:121.9px;font-size:11.0px">AERONAUTICAL M</div>
<div class="lb" style="left:1433.0px;width:202.3px;font-size:11.0px">BROADCASTING</div>
<div class="lb" style="left:1677.9px;width:104.1px;font-size:11.0px">FIXED</div>
<div class="lb" style="left:1800.1px;width:76.9px;font-size:9.6px">FIXED</div>
</div></div>
<div class="bl" style="left:27px;top:824.5px">300 MHZ</div>
<div class="bm" style="left:801px;top:824.5px">300 MHz – 3 GHz</div>
<div class="bl" style="right:28px;top:824.5px;text-align:right">3 GHZ</div>
<div class="box" style="top:845px">
<div class="ax">
<b class="tk" style="left:0.0px"></b><span class="tl" style="left:0.0px">300 MHz</span>
<b class="tk" style="left:234.5px"></b><span class="tl" style="left:234.5px">400 MHz</span>
<b class="tk" style="left:416.4px"></b><span class="tl" style="left:416.4px">500 MHz</span>
<b class="tk" style="left:565.0px"></b><span class="tl" style="left:565.0px">600 MHz</span>
<b class="tk" style="left:690.7px"></b><span class="tl" style="left:690.7px">700 MHz</span>
<b class="tk" style="left:799.5px"></b><span class="tl" style="left:799.5px">800 MHz</span>
<b class="tk" style="left:895.6px"></b><span class="tl" style="left:895.6px">900 MHz</span>
<b class="tk" style="left:981.4px"></b><span class="tl" style="left:981.4px">1 GHz</span>
<b class="tk" style="left:1546.5px"></b><span class="tl" style="left:1546.5px">2 GHz</span>
<b class="tk" style="left:1877.0px"></b><span class="tl" style="left:1877.0px">3 GHz</span>
</div><div class="bk">
<div class="b" style="left:0px;width:32px"><i style="background:#cc0000"></i><i style="background:#ff6600"></i></div>
<div class="b" style="left:32px;width:8px"><i style="background:#cc0000"></i><i style="background:#ff6600"></i><i style="background:#ff8a36"></i></div>
<div class="b" style="left:40px;width:18px"><i style="background:#cc0000"></i><i style="background:#ff6600"></i></div>
<div class="b" style="left:58px;width:16px"><i style="background:#cc0000"></i><i style="background:#ff6600"></i><i style="background:#aaff44"></i></div>
<div class="b" style="left:74px;width:17px"><i style="background:#00bfa8"></i></div>
<div class="b" style="left:91px;width:117px"><i style="background:#cc0000"></i><i style="background:#ff6600"></i></div>
<div class="b" style="left:208px;width:6px"><i style="background:#cc0000"></i><i style="background:#ff6600"></i><i style="background:#ff8a36"></i></div>
<div class="b" style="left:214px;width:20px"><i style="background:#cc0000"></i><i style="background:#ff6600"></i></div>
<div class="b" style="left:234px;width:3px"><i style="background:#666600"></i><i style="background:#998c33"></i><i style="background:#ff8a36"></i><i style="background:#ff7799"></i><i style="background:#ffaa88"></i></div>
<div class="b n" style="left:237px;width:2px"><i style="background:#666600"></i><i style="background:#ffaa88"></i><i style="background:#ffc000"></i><i style="background:#998c33"></i><i style="background:#cc0000"></i><i style="background:#ff6600"></i></div>
<div class="b n" style="left:239px;width:2px"><i style="background:#666600"></i><i style="background:#ffc000"></i><i style="background:#998c33"></i><i style="background:#cc0000"></i><i style="background:#ff6600"></i></div>
<div class="b" style="left:241px;width:6px"><i style="background:#666600"></i><i style="background:#cc0000"></i><i style="background:#ff6600"></i></div>
<div class="b" style="left:247px;width:8px"><i style="background:#cc0000"></i><i style="background:#ff6600"></i><i style="background:#aaff44"></i></div>
<div class="b" style="left:255px;width:19px"><i style="background:#cc0000"></i><i style="background:#ff6600"></i><i style="background:#ff7799"></i></div>
<div class="b" style="left:274px;width:19px"><i style="background:#cc0000"></i><i style="background:#ff6600"></i><i style="background:#00ff00"></i></div>
<div class="b" style="left:293px;width:4px"><i style="background:#ff00ff"></i><i style="background:#00ff00"></i></div>
<div class="b" style="left:297px;width:11px"><i style="background:#ff00ff"></i><i style="background:#00ff00"></i><i style="background:#ffc000"></i></div>
<div class="b" style="left:308px;width:4px"><i style="background:#ff00ff"></i><i style="background:#00ff00"></i></div>
<div class="b" style="left:312px;width:19px"><i style="background:#cc0000"></i><i style="background:#ff6600"></i><i style="background:#00ff00"></i></div>
<div class="b" style="left:331px;width:9px"><i style="background:#cc0000"></i><i style="background:#ff6600"></i></div>
<div class="b n" style="left:340px;width:1px"><i style="background:#cc0000"></i><i style="background:#ff6600"></i></div>
<div class="b" style="left:341px;width:6px"><i style="background:#cc0000"></i><i style="background:#ff6600"></i></div>
<div class="b n" style="left:347px;width:1px"><i style="background:#cc0000"></i><i style="background:#ff6600"></i></div>
<div class="b" style="left:348px;width:18px"><i style="background:#cc0000"></i><i style="background:#ff6600"></i><i style="background:#998c33"></i></div>
<div class="b" style="left:366px;width:318px"><i style="background:#9900cc"></i></div>
<div class="b" style="left:684px;width:105px"><i style="background:#ff6600"></i><i style="background:#9900cc"></i></div>
<div class="b" style="left:789px;width:71px"><i style="background:#cc0000"></i><i style="background:#ff6600"></i><i style="background:#9900cc"></i></div>
<div class="b" style="left:860px;width:26px"><i style="background:#cc0000"></i><i style="background:#ff6600"></i><i style="background:#9900cc"></i></div>
<div class="b" style="left:886px;width:47px"><i style="background:#cc0000"></i><i style="background:#ff6600"></i><i style="background:#9900cc"></i><i style="background:#00ff00"></i></div>
<div class="b" style="left:933px;width:15px"><i style="background:#cc0000"></i><i style="background:#ff6600"></i><i style="background:#9900cc"></i></div>
<div class="b" style="left:948px;width:157px"><i style="background:#00a650"></i><i style="background:#00bfa8"></i></div>
<div class="b" style="left:1105px;width:35px"><i style="background:#00bfa8"></i><i style="background:#33bbaa"></i></div>
<div class="b" style="left:1140px;width:17px"><i style="background:#ffc000"></i><i style="background:#00ff00"></i><i style="background:#33bbaa"></i><i style="background:#ff7799"></i></div>
<div class="b" style="left:1157px;width:38px"><i style="background:#ffc000"></i><i style="background:#00ff00"></i><i style="background:#33bbaa"></i><i style="background:#ff7799"></i><i style="background:#ff00ff"></i></div>
<div class="b" style="left:1195px;width:31px"><i style="background:#00ff00"></i><i style="background:#00bfa8"></i><i style="background:#33bbaa"></i></div>
<div class="b" style="left:1226px;width:30px"><i style="background:#cc0000"></i><i style="background:#ff6600"></i><i style="background:#00ff00"></i></div>
<div class="b" style="left:1256px;width:15px"><i style="background:#ffc000"></i><i style="background:#aaff44"></i><i style="background:#ff7799"></i></div>
<div class="b n" style="left:1271px;width:1px"><i style="background:#ffaa88"></i><i style="background:#cc0000"></i><i style="background:#ff6600"></i></div>
<div class="b" style="left:1272px;width:13px"><i style="background:#cc0000"></i><i style="background:#ff6600"></i></div>
<div class="b" style="left:1285px;width:23px"><i style="background:#cc0000"></i><i style="background:#ff6600"></i><i style="background:#9900cc"></i><i style="background:#660066"></i></div>
<div class="b" style="left:1308px;width:14px"><i style="background:#cc0000"></i><i style="background:#ff6600"></i></div>
<div class="b" style="left:1322px;width:3px"><i style="background:#cc0000"></i><i style="background:#ff6600"></i><i style="background:#ff8a36"></i></div>
<div class="b" style="left:1325px;width:3px"><i style="background:#ffaa88"></i><i style="background:#cc0000"></i><i style="background:#ff8a36"></i><i style="background:#ffc000"></i><i style="background:#ff6600"></i></div>
<div class="b" style="left:1328px;width:3px"><i style="background:#ffaa88"></i><i style="background:#ff8a36"></i><i style="background:#ffc000"></i><i style="background:#cc0000"></i><i style="background:#ff6600"></i></div>
<div class="b" style="left:1331px;width:12px"><i style="background:#ff8a36"></i></div>
<div class="b" style="left:1343px;width:27px"><i style="background:#00bfa8"></i><i style="background:#33bbaa"></i></div>
<div class="b n" style="left:1370px;width:2px"><i style="background:#ff8a36"></i><i style="background:#aaff44"></i><i style="background:#00bfa8"></i></div>
<div class="b" style="left:1372px;width:3px"><i style="background:#ff8a36"></i><i style="background:#00bfa8"></i><i style="background:#ff8a36"></i></div>
<div class="b" style="left:1375px;width:3px"><i style="background:#0000ff"></i><i style="background:#ff8a36"></i><i style="background:#00bfa8"></i><i style="background:#ff6600"></i></div>
<div class="b" style="left:1378px;width:17px"><i style="background:#ff8a36"></i></div>
<div class="b" style="left:1395px;width:4px"><i style="background:#aaff44"></i><i style="background:#ff7799"></i><i style="background:#cc0000"></i><i style="background:#ff6600"></i></div>
<div class="b" style="left:1399px;width:3px"><i style="background:#666600"></i><i style="background:#cc0000"></i><i style="background:#998c33"></i><i style="background:#ff6600"></i><i style="background:#ff8a36"></i></div>
<div class="b" style="left:1402px;width:7px"><i style="background:#666600"></i><i style="background:#cc0000"></i><i style="background:#998c33"></i><i style="background:#ff6600"></i></div>
<div class="b" style="left:1409px;width:5px"><i style="background:#666600"></i><i style="background:#998c33"></i><i style="background:#cc0000"></i><i style="background:#ff6600"></i></div>
<div class="b" style="left:1414px;width:5px"><i style="background:#cc0000"></i><i style="background:#998c33"></i><i style="background:#ff6600"></i></div>
<div class="b" style="left:1419px;width:98px"><i style="background:#cc0000"></i><i style="background:#ff6600"></i></div>
<div class="b" style="left:1517px;width:17px"><i style="background:#cc0000"></i><i style="background:#ff6600"></i></div>
<div class="b" style="left:1534px;width:4px"><i style="background:#cc0000"></i><i style="background:#ff6600"></i></div>
<div class="b" style="left:1538px;width:13px"><i style="background:#cc0000"></i><i style="background:#ff6600"></i><i style="background:#ff8a36"></i></div>
<div class="b" style="left:1551px;width:6px"><i style="background:#cc0000"></i><i style="background:#ff6600"></i></div>
<div class="b" style="left:1557px;width:33px"><i style="background:#ffaa88"></i><i style="background:#ffc000"></i><i style="background:#cc0000"></i><i style="background:#ff6600"></i><i style="background:#ff7799"></i></div>
<div class="b" style="left:1590px;width:4px"><i style="background:#cc0000"></i><i style="background:#ff6600"></i><i style="background:#ff7799"></i></div>
<div class="b" style="left:1594px;width:15px"><i style="background:#cc0000"></i><i style="background:#ff6600"></i></div>
<div class="b" style="left:1609px;width:4px"><i style="background:#cc0000"></i><i style="background:#ff6600"></i></div>
<div class="b" style="left:1613px;width:11px"><i style="background:#cc0000"></i><i style="background:#ff6600"></i><i style="background:#ff8a36"></i></div>
<div class="b" style="left:1624px;width:33px"><i style="background:#ffaa88"></i><i style="background:#ffc000"></i><i style="background:#cc0000"></i><i style="background:#ff6600"></i><i style="background:#ff7799"></i></div>
<div class="b" style="left:1657px;width:3px"><i style="background:#cc0000"></i><i style="background:#ff6600"></i><i style="background:#ff7799"></i></div>
<div class="b" style="left:1660px;width:52px"><i style="background:#cc0000"></i><i style="background:#ff6600"></i><i style="background:#ff00ff"></i><i style="background:#00ff00"></i></div>
<div class="b" style="left:1712px;width:11px"><i style="background:#cc0000"></i><i style="background:#ff6600"></i><i style="background:#00ff00"></i></div>
<div class="b" style="left:1723px;width:5px"><i style="background:#cc0000"></i><i style="background:#ff6600"></i><i style="background:#ff8a36"></i><i style="background:#00ccdd"></i><i style="background:#00ff00"></i></div>
<div class="b" style="left:1728px;width:7px"><i style="background:#cc0000"></i><i style="background:#ff6600"></i><i style="background:#ff8a36"></i></div>
<div class="b" style="left:1735px;width:42px"><i style="background:#cc0000"></i><i style="background:#ff6600"></i><i style="background:#660066"></i></div>
<div class="b" style="left:1777px;width:5px"><i style="background:#cc0000"></i><i style="background:#ff6600"></i><i style="background:#660066"></i><i style="background:#ffc000"></i><i style="background:#aaff44"></i><i style="background:#ff7799"></i></div>
<div class="b" style="left:1782px;width:6px"><i style="background:#cc0000"></i><i style="background:#ff6600"></i><i style="background:#ffc000"></i><i style="background:#aaff44"></i><i style="background:#ff7799"></i></div>
<div class="b" style="left:1788px;width:3px"><i style="background:#ffc000"></i><i style="background:#aaff44"></i><i style="background:#ff7799"></i></div>
<div class="b" style="left:1791px;width:58px"><i style="background:#00bfa8"></i><i style="background:#00ff00"></i></div>
<div class="b" style="left:1849px;width:55px"><i style="background:#00ff00"></i><i style="background:#008c8c"></i></div>
<div class="lb" style="left:90.9px;width:116.7px;font-size:11.0px">FIXED</div>
<div class="lb" style="left:366.0px;width:317.7px;font-size:11.0px">BROADCASTING</div>
<div class="lb" style="left:683.7px;width:105.6px;font-size:11.0px">MOBILE excep</div>
<div class="lb" style="left:789.3px;width:71.1px;font-size:9.0px">FIXED</div>
<div class="lb" style="left:948.2px;width:157.1px;font-size:11.0px">AERONAUTICAL MOBILE</div>
<div class="lb" style="left:1418.8px;width:98.7px;font-size:11.0px">FIXED</div>
</div></div>
<div class="bl" style="left:27px;top:982.5px">3 GHZ</div>
<div class="bm" style="left:801px;top:982.5px">3 GHz – 30 GHz</div>
<div class="bl" style="right:28px;top:982.5px;text-align:right">30 GHZ</div>
<div class="box" style="top:1003px">
<div class="ax">
<b class="tk" style="left:234.5px"></b><span class="tl" style="left:234.5px">4 GHz</span>
<b class="tk" style="left:416.4px"></b><span class="tl" style="left:416.4px">5 GHz</span>
<b class="tk" style="left:565.0px"></b><span class="tl" style="left:565.0px">6 GHz</span>
<b class="tk" style="left:690.7px"></b><span class="tl" style="left:690.7px">7 GHz</span>
<b class="tk" style="left:799.5px"></b><span class="tl" style="left:799.5px">8 GHz</span>
<b class="tk" style="left:895.6px"></b><span class="tl" style="left:895.6px">9 GHz</span>
<b class="tk" style="left:981.4px"></b><span class="tl" style="left:981.4px">10 GHz</span>
<b class="tk" style="left:1546.5px"></b><span class="tl" style="left:1546.5px">20 GHz</span>
</div><div class="bk">
<div class="b" style="left:0px;width:27px"><i style="background:#00ff00"></i><i style="background:#008c8c"></i></div>
<div class="b" style="left:27px;width:51px"><i style="background:#00ff00"></i><i style="background:#ffc000"></i><i style="background:#ff7799"></i></div>
<div class="b" style="left:78px;width:24px"><i style="background:#00ff00"></i></div>
<div class="b" style="left:102px;width:47px"><i style="background:#cc0000"></i><i style="background:#ff0000"></i><i style="background:#ff6600"></i><i style="background:#00ff00"></i></div>
<div class="b" style="left:149px;width:44px"><i style="background:#cc0000"></i><i style="background:#ff0000"></i><i style="background:#ff6600"></i></div>
<div class="b" style="left:193px;width:81px"><i style="background:#cc0000"></i><i style="background:#ff0000"></i><i style="background:#ff6600"></i></div>
<div class="b" style="left:274px;width:38px"><i style="background:#00a650"></i><i style="background:#00bfa8"></i></div>
<div class="b" style="left:312px;width:19px"><i style="background:#cc0000"></i><i style="background:#ff6600"></i></div>
<div class="b" style="left:331px;width:52px"><i style="background:#cc0000"></i><i style="background:#ff0000"></i><i style="background:#ff6600"></i></div>
<div class="b" style="left:383px;width:32px"><i style="background:#cc0000"></i><i style="background:#ff6600"></i><i style="background:#aaff44"></i></div>
<div class="b n" style="left:415px;width:1px"><i style="background:#cc0000"></i><i style="background:#ff6600"></i><i style="background:#aaff44"></i><i style="background:#ff7799"></i></div>
<div class="b n" style="left:416px;width:2px"><i style="background:#238a35"></i><i style="background:#00bfa8"></i><i style="background:#33bbaa"></i></div>
<div class="b" style="left:418px;width:3px"><i style="background:#238a35"></i><i style="background:#00bfa8"></i><i style="background:#33bbaa"></i></div>
<div class="b" style="left:421px;width:10px"><i style="background:#00a650"></i><i style="background:#238a35"></i><i style="background:#00bfa8"></i></div>
<div class="b" style="left:431px;width:10px"><i style="background:#ff0000"></i><i style="background:#00a650"></i><i style="background:#238a35"></i><i style="background:#00bfa8"></i></div>
<div class="b" style="left:441px;width:15px"><i style="background:#ff0000"></i><i style="background:#ff6600"></i><i style="background:#00bfa8"></i></div>
<div class="b" style="left:456px;width:16px"><i style="background:#ffc000"></i><i style="background:#ff6600"></i><i style="background:#00ff00"></i><i style="background:#ff7799"></i></div>
<div class="b" style="left:472px;width:16px"><i style="background:#ffc000"></i><i style="background:#00ff00"></i><i style="background:#00bfa8"></i><i style="background:#ff7799"></i></div>
<div class="b n" style="left:488px;width:2px"><i style="background:#ffc000"></i><i style="background:#ff6600"></i><i style="background:#00ff00"></i><i style="background:#008c8c"></i><i style="background:#ff7799"></i></div>
<div class="b" style="left:490px;width:14px"><i style="background:#ffc000"></i><i style="background:#ff6600"></i><i style="background:#00ff00"></i><i style="background:#007a8a"></i><i style="background:#ff7799"></i></div>
<div class="b" style="left:504px;width:12px"><i style="background:#ff6600"></i><i style="background:#00ff00"></i><i style="background:#007a8a"></i></div>
<div class="b" style="left:516px;width:11px"><i style="background:#ff6600"></i><i style="background:#00ff00"></i><i style="background:#ff00ff"></i><i style="background:#ff7799"></i></div>
<div class="b" style="left:527px;width:15px"><i style="background:#ff0000"></i><i style="background:#00ff00"></i><i style="background:#ff00ff"></i></div>
<div class="b n" style="left:542px;width:2px"><i style="background:#ff0000"></i><i style="background:#00ff00"></i><i style="background:#ff00ff"></i><i style="background:#cc0099"></i></div>
<div class="b" style="left:544px;width:11px"><i style="background:#cc0000"></i><i style="background:#ff0000"></i><i style="background:#ff6600"></i></div>
<div class="b" style="left:555px;width:100px"><i style="background:#cc0000"></i><i style="background:#ff0000"></i><i style="background:#ff6600"></i></div>
<div class="b" style="left:655px;width:44px"><i style="background:#cc0000"></i><i style="background:#ff0000"></i><i style="background:#ff6600"></i></div>
<div class="b" style="left:699px;width:8px"><i style="background:#cc0000"></i><i style="background:#ff6600"></i></div>
<div class="b" style="left:707px;width:6px"><i style="background:#cc0000"></i><i style="background:#ff6600"></i><i style="background:#ff7799"></i></div>
<div class="b" style="left:713px;width:5px"><i style="background:#ffc000"></i><i style="background:#cc0000"></i><i style="background:#ff6600"></i><i style="background:#ff7799"></i></div>
<div class="b n" style="left:718px;width:1px"><i style="background:#ffc000"></i><i style="background:#cc0000"></i><i style="background:#ff6600"></i></div>
<div class="b" style="left:719px;width:6px"><i style="background:#cc0000"></i><i style="background:#ff0000"></i><i style="background:#ff6600"></i></div>
<div class="b" style="left:725px;width:8px"><i style="background:#cc0000"></i><i style="background:#ff0000"></i><i style="background:#ff6600"></i></div>
<div class="b" style="left:733px;width:8px"><i style="background:#cc0000"></i><i style="background:#ff0000"></i><i style="background:#ff6600"></i><i style="background:#0000ff"></i></div>
<div class="b" style="left:741px;width:11px"><i style="background:#cc0000"></i><i style="background:#ff0000"></i><i style="background:#998c33"></i><i style="background:#ff6600"></i><i style="background:#0000ff"></i></div>
<div class="b" style="left:752px;width:22px"><i style="background:#cc0000"></i><i style="background:#ff0000"></i><i style="background:#ff6600"></i><i style="background:#0000ff"></i></div>
<div class="b" style="left:774px;width:15px"><i style="background:#cc0000"></i><i style="background:#998c33"></i><i style="background:#ff6600"></i></div>
<div class="b" style="left:789px;width:13px"><i style="background:#cc0000"></i><i style="background:#ff0000"></i><i style="background:#ff6600"></i></div>
<div class="b" style="left:802px;width:15px"><i style="background:#ffc000"></i><i style="background:#cc0000"></i><i style="background:#ff0000"></i><i style="background:#ff6600"></i></div>
<div class="b" style="left:817px;width:4px"><i style="background:#ffc000"></i><i style="background:#cc0000"></i><i style="background:#ff0000"></i><i style="background:#998c33"></i><i style="background:#ff6600"></i></div>
<div class="b" style="left:821px;width:18px"><i style="background:#ffc000"></i><i style="background:#cc0000"></i><i style="background:#ff0000"></i><i style="background:#ff6600"></i></div>
<div class="b" style="left:839px;width:10px"><i style="background:#cc0000"></i><i style="background:#ff6600"></i><i style="background:#ff7799"></i></div>
<div class="b" style="left:849px;width:5px"><i style="background:#00ff00"></i></div>
<div class="b" style="left:854px;width:9px"><i style="background:#ffc000"></i><i style="background:#00ff00"></i><i style="background:#ff7799"></i></div>
<div class="b" style="left:863px;width:10px"><i style="background:#00ff00"></i></div>
<div class="b" style="left:873px;width:9px"><i style="background:#00ff00"></i><i style="background:#00bfa8"></i></div>
<div class="b" style="left:882px;width:14px"><i style="background:#00ff00"></i><i style="background:#007a8a"></i></div>
<div class="b" style="left:896px;width:17px"><i style="background:#00ff00"></i><i style="background:#00bfa8"></i></div>
<div class="b" style="left:913px;width:9px"><i style="background:#ffc000"></i><i style="background:#00ff00"></i><i style="background:#007a8a"></i></div>
<div class="b" style="left:922px;width:18px"><i style="background:#ffc000"></i><i style="background:#00ff00"></i><i style="background:#008c8c"></i><i style="background:#ff7799"></i></div>
<div class="b" style="left:940px;width:25px"><i style="background:#ffc000"></i><i style="background:#00ff00"></i><i style="background:#008c8c"></i><i style="background:#ff7799"></i></div>
<div class="b" style="left:965px;width:8px"><i style="background:#00ff00"></i><i style="background:#ffc000"></i><i style="background:#cc0000"></i><i style="background:#ff7799"></i></div>
<div class="b" style="left:973px;width:8px"><i style="background:#ffc000"></i><i style="background:#00ff00"></i><i style="background:#cc0000"></i></div>
<div class="b" style="left:981px;width:32px"><i style="background:#ffc000"></i><i style="background:#cc0000"></i><i style="background:#ff6600"></i><i style="background:#00ff00"></i><i style="background:#ff00ff"></i></div>
<div class="b" style="left:1013px;width:4px"><i style="background:#cc0000"></i><i style="background:#ff6600"></i><i style="background:#00ff00"></i><i style="background:#ff00ff"></i></div>
<div class="b" style="left:1017px;width:4px"><i style="background:#00ff00"></i><i style="background:#ff00ff"></i><i style="background:#cc0099"></i></div>
<div class="b" style="left:1021px;width:4px"><i style="background:#cc0000"></i><i style="background:#ff6600"></i><i style="background:#00ff00"></i></div>
<div class="b" style="left:1025px;width:4px"><i style="background:#cc0000"></i><i style="background:#ff6600"></i><i style="background:#00ff00"></i></div>
<div class="b" style="left:1029px;width:6px"><i style="background:#ffc000"></i><i style="background:#cc0000"></i><i style="background:#ff6600"></i><i style="background:#aaff44"></i><i style="background:#ff7799"></i><i style="background:#00ff00"></i></div>
<div class="b n" style="left:1035px;width:2px"><i style="background:#ffc000"></i><i style="background:#aaff44"></i><i style="background:#ff7799"></i></div>
<div class="b" style="left:1037px;width:18px"><i style="background:#cc0000"></i><i style="background:#ff0000"></i><i style="background:#ff6600"></i></div>
<div class="b" style="left:1055px;width:19px"><i style="background:#cc0000"></i><i style="background:#ff0000"></i><i style="background:#ff6600"></i></div>
<div class="b" style="left:1074px;width:18px"><i style="background:#cc0000"></i><i style="background:#ff0000"></i><i style="background:#ff6600"></i></div>
<div class="b" style="left:1092px;width:17px"><i style="background:#cc0000"></i><i style="background:#ff0000"></i><i style="background:#ff6600"></i></div>
<div class="b" style="left:1109px;width:54px"><i style="background:#cc0000"></i><i style="background:#ff6600"></i><i style="background:#9900cc"></i><i style="background:#660066"></i></div>
<div class="b" style="left:1163px;width:16px"><i style="background:#ff0000"></i></div>
<div class="b" style="left:1179px;width:32px"><i style="background:#cc0000"></i><i style="background:#ff0000"></i><i style="background:#ff6600"></i><i style="background:#ff7799"></i></div>
<div class="b" style="left:1211px;width:9px"><i style="background:#ffc000"></i><i style="background:#00bfa8"></i><i style="background:#ff7799"></i></div>
<div class="b" style="left:1220px;width:15px"><i style="background:#ffc000"></i><i style="background:#ff0000"></i><i style="background:#00ff00"></i><i style="background:#ff7799"></i><i style="background:#cccc00"></i></div>
<div class="b" style="left:1235px;width:6px"><i style="background:#ffc000"></i><i style="background:#00ff00"></i><i style="background:#ff7799"></i><i style="background:#cccc00"></i></div>
<div class="b" style="left:1241px;width:15px"><i style="background:#ff0000"></i><i style="background:#00ff00"></i><i style="background:#ffc000"></i><i style="background:#cccc00"></i><i style="background:#ff7799"></i></div>
<div class="b" style="left:1256px;width:14px"><i style="background:#ff0000"></i><i style="background:#007a8a"></i><i style="background:#ff8a36"></i><i style="background:#ff7799"></i></div>
<div class="b" style="left:1270px;width:3px"><i style="background:#ff0000"></i><i style="background:#007a8a"></i><i style="background:#ff8a36"></i><i style="background:#ff7799"></i></div>
<div class="b" style="left:1273px;width:6px"><i style="background:#cc0000"></i><i style="background:#ff0000"></i><i style="background:#ff6600"></i><i style="background:#ff8a36"></i><i style="background:#33bbaa"></i></div>
<div class="b" style="left:1279px;width:4px"><i style="background:#cc0000"></i><i style="background:#ff0000"></i><i style="background:#ff6600"></i><i style="background:#ff8a36"></i><i style="background:#ff7799"></i></div>
<div class="b n" style="left:1283px;width:1px"><i style="background:#cc0000"></i><i style="background:#ff0000"></i><i style="background:#ff6600"></i><i style="background:#ff8a36"></i><i style="background:#aaff44"></i></div>
<div class="b" style="left:1284px;width:14px"><i style="background:#cc0000"></i><i style="background:#ff0000"></i><i style="background:#ff6600"></i><i style="background:#ff7799"></i></div>
<div class="b" style="left:1298px;width:3px"><i style="background:#cc0000"></i><i style="background:#ff0000"></i><i style="background:#ff6600"></i><i style="background:#ff7799"></i></div>
<div class="b" style="left:1301px;width:30px"><i style="background:#cc0000"></i><i style="background:#ff6600"></i><i style="background:#ff7799"></i></div>
<div class="b n" style="left:1331px;width:2px"><i style="background:#ffc000"></i><i style="background:#aaff44"></i><i style="background:#ff7799"></i></div>
<div class="b n" style="left:1333px;width:2px"><i style="background:#00ff00"></i><i style="background:#00bfa8"></i></div>
<div class="b" style="left:1335px;width:11px"><i style="background:#ff0000"></i><i style="background:#00ff00"></i><i style="background:#00bfa8"></i><i style="background:#00a650"></i></div>
<div class="b" style="left:1346px;width:3px"><i style="background:#00ff00"></i><i style="background:#00bfa8"></i><i style="background:#00a650"></i></div>
<div class="b" style="left:1349px;width:46px"><i style="background:#00ff00"></i></div>
<div class="b" style="left:1395px;width:24px"><i style="background:#00ff00"></i><i style="background:#ff7799"></i></div>
<div class="b" style="left:1419px;width:5px"><i style="background:#00ff00"></i></div>
<div class="b" style="left:1424px;width:4px"><i style="background:#ffc000"></i><i style="background:#00ff00"></i><i style="background:#ff7799"></i></div>
<div class="b" style="left:1428px;width:19px"><i style="background:#ff0000"></i><i style="background:#00ff00"></i></div>
<div class="b" style="left:1447px;width:18px"><i style="background:#cc0000"></i><i style="background:#ff0000"></i><i style="background:#ff6600"></i></div>
<div class="b" style="left:1465px;width:14px"><i style="background:#cc0000"></i><i style="background:#ff0000"></i><i style="background:#ff5733"></i><i style="background:#ff6600"></i></div>
<div class="b" style="left:1479px;width:8px"><i style="background:#cc0000"></i><i style="background:#ff0000"></i><i style="background:#ff5733"></i><i style="background:#ff6600"></i></div>
<div class="b" style="left:1487px;width:9px"><i style="background:#ffc000"></i><i style="background:#cc0000"></i><i style="background:#ff0000"></i><i style="background:#ff6600"></i><i style="background:#ff7799"></i></div>
<div class="b" style="left:1496px;width:21px"><i style="background:#cc0000"></i><i style="background:#ff0000"></i><i style="background:#ff5733"></i><i style="background:#ff6600"></i></div>
<div class="b" style="left:1517px;width:17px"><i style="background:#cc0000"></i><i style="background:#ff0000"></i><i style="background:#ff5733"></i><i style="background:#ff6600"></i></div>
<div class="b" style="left:1534px;width:17px"><i style="background:#ff0000"></i><i style="background:#ff5733"></i><i style="background:#ff8a36"></i></div>
<div class="b" style="left:1551px;width:4px"><i style="background:#ff0000"></i><i style="background:#ff5733"></i><i style="background:#ff8a36"></i></div>
<div class="b" style="left:1555px;width:39px"><i style="background:#ff0000"></i><i style="background:#ff8a36"></i><i style="background:#cccc00"></i></div>
<div class="b" style="left:1594px;width:8px"><i style="background:#ffc000"></i><i style="background:#cc0000"></i><i style="background:#ff6600"></i><i style="background:#ff7799"></i></div>
<div class="b" style="left:1602px;width:22px"><i style="background:#cc0000"></i><i style="background:#ff6600"></i><i style="background:#660066"></i></div>
<div class="b" style="left:1624px;width:8px"><i style="background:#cc0000"></i><i style="background:#ff6600"></i></div>
<div class="b" style="left:1632px;width:10px"><i style="background:#ffc000"></i><i style="background:#cc0000"></i><i style="background:#ff6600"></i><i style="background:#aaff44"></i><i style="background:#ff7799"></i></div>
<div class="b n" style="left:1642px;width:2px"><i style="background:#cc0000"></i><i style="background:#ff6600"></i></div>
<div class="b" style="left:1644px;width:22px"><i style="background:#cc0000"></i><i style="background:#ff5733"></i><i style="background:#ff6600"></i><i style="background:#ff7799"></i></div>
<div class="b" style="left:1666px;width:14px"><i style="background:#cc0000"></i><i style="background:#ff5733"></i><i style="background:#ff6600"></i></div>
<div class="b n" style="left:1680px;width:1px"><i style="background:#cc0000"></i><i style="background:#ff6600"></i></div>
<div class="b" style="left:1681px;width:14px"><i style="background:#ffc000"></i><i style="background:#aaff44"></i><i style="background:#ff7799"></i></div>
<div class="b n" style="left:1695px;width:2px"><i style="background:#ff00ff"></i><i style="background:#cc0099"></i></div>
<div class="b" style="left:1697px;width:7px"><i style="background:#00ff00"></i><i style="background:#ff00ff"></i><i style="background:#ffc000"></i></div>
<div class="b" style="left:1704px;width:6px"><i style="background:#cc0000"></i><i style="background:#ff6600"></i></div>
<div class="b" style="left:1710px;width:7px"><i style="background:#cc0000"></i><i style="background:#ff5733"></i><i style="background:#ff6600"></i></div>
<div class="b" style="left:1717px;width:3px"><i style="background:#cc0000"></i><i style="background:#ff0000"></i><i style="background:#ff5733"></i><i style="background:#ff6600"></i></div>
<div class="b" style="left:1720px;width:16px"><i style="background:#cc0000"></i><i style="background:#ff0000"></i><i style="background:#ff6600"></i></div>
<div class="b" style="left:1736px;width:9px"><i style="background:#cc0000"></i><i style="background:#ff5733"></i><i style="background:#ff6600"></i><i style="background:#cccc00"></i></div>
<div class="b" style="left:1745px;width:46px"><i style="background:#ffc000"></i><i style="background:#cc0000"></i><i style="background:#ff5733"></i><i style="background:#ff6600"></i><i style="background:#ff7799"></i><i style="background:#cccc00"></i></div>
<div class="b" style="left:1791px;width:15px"><i style="background:#cc0000"></i><i style="background:#ff5733"></i><i style="background:#ff6600"></i></div>
<div class="b" style="left:1806px;width:29px"><i style="background:#cc0000"></i><i style="background:#ff0000"></i><i style="background:#ff6600"></i></div>
<div class="b" style="left:1835px;width:17px"><i style="background:#cc0000"></i><i style="background:#ff0000"></i><i style="background:#ff5733"></i><i style="background:#ff6600"></i><i style="background:#ffc000"></i></div>
<div class="b" style="left:1852px;width:11px"><i style="background:#cc0000"></i><i style="background:#ff0000"></i><i style="background:#ff5733"></i><i style="background:#ff6600"></i><i style="background:#ffc000"></i></div>
<div class="b" style="left:1863px;width:11px"><i style="background:#ff0000"></i><i style="background:#ff5733"></i><i style="background:#ffc000"></i><i style="background:#ff8a36"></i></div>
<div class="b" style="left:1874px;width:16px"><i style="background:#ff0000"></i><i style="background:#ff5733"></i><i style="background:#ffc000"></i><i style="background:#ff8a36"></i></div>
<div class="lb" style="left:192.7px;width:81.6px;font-size:10.2px">FIXED</div>
<div class="lb" style="left:554.8px;width:100.2px;font-size:11.0px">FIXED</div>
</div></div>
<div class="bl" style="left:27px;top:1139.5px">30 GHZ</div>
<div class="bm" style="left:801px;top:1139.5px">30 GHz – 300 GHz</div>
<div class="bl" style="right:28px;top:1139.5px;text-align:right">300 GHZ</div>
<div class="box" style="top:1160px">
<div class="ax">
<b class="tk" style="left:0.0px"></b><span class="tl" style="left:0.0px">30 GHz</span>
<b class="tk" style="left:234.5px"></b><span class="tl" style="left:234.5px">40 GHz</span>
<b class="tk" style="left:416.4px"></b><span class="tl" style="left:416.4px">50 GHz</span>
<b class="tk" style="left:565.0px"></b><span class="tl" style="left:565.0px">60 GHz</span>
<b class="tk" style="left:690.7px"></b><span class="tl" style="left:690.7px">70 GHz</span>
<b class="tk" style="left:799.5px"></b><span class="tl" style="left:799.5px">80 GHz</span>
<b class="tk" style="left:895.6px"></b><span class="tl" style="left:895.6px">90 GHz</span>
<b class="tk" style="left:981.4px"></b><span class="tl" style="left:981.4px">100 GHz</span>
<b class="tk" style="left:1546.5px"></b><span class="tl" style="left:1546.5px">200 GHz</span>
</div><div class="bk">
<div class="b" style="left:0px;width:27px"><i style="background:#ff0000"></i><i style="background:#ff8a36"></i><i style="background:#cccc00"></i></div>
<div class="b" style="left:27px;width:8px"><i style="background:#cc0000"></i><i style="background:#ff6600"></i><i style="background:#cccc00"></i><i style="background:#ff7799"></i></div>
<div class="b" style="left:35px;width:5px"><i style="background:#ffc000"></i><i style="background:#aaff44"></i><i style="background:#ff7799"></i></div>
<div class="b" style="left:40px;width:7px"><i style="background:#ffc000"></i><i style="background:#aaff44"></i><i style="background:#ff7799"></i><i style="background:#cc0000"></i><i style="background:#ff6600"></i></div>
<div class="b" style="left:47px;width:6px"><i style="background:#cc0000"></i><i style="background:#008c8c"></i><i style="background:#ff7799"></i></div>
<div class="b" style="left:53px;width:7px"><i style="background:#cc0000"></i><i style="background:#008c8c"></i><i style="background:#ff7799"></i></div>
<div class="b" style="left:60px;width:18px"><i style="background:#cc0000"></i><i style="background:#ff5733"></i><i style="background:#008c8c"></i></div>
<div class="b" style="left:78px;width:10px"><i style="background:#cc0000"></i><i style="background:#008c8c"></i></div>
<div class="b" style="left:88px;width:19px"><i style="background:#00ff00"></i></div>
<div class="b" style="left:107px;width:12px"><i style="background:#00ff00"></i><i style="background:#ff7799"></i></div>
<div class="b" style="left:119px;width:11px"><i style="background:#00ff00"></i><i style="background:#ff7799"></i></div>
<div class="b" style="left:130px;width:7px"><i style="background:#666600"></i><i style="background:#00ff00"></i></div>
<div class="b" style="left:137px;width:12px"><i style="background:#666600"></i><i style="background:#ffc000"></i><i style="background:#00ff00"></i><i style="background:#ff7799"></i></div>
<div class="b" style="left:149px;width:22px"><i style="background:#ffc000"></i><i style="background:#cc0000"></i><i style="background:#ff6600"></i><i style="background:#ff7799"></i></div>
<div class="b" style="left:171px;width:11px"><i style="background:#cc0000"></i><i style="background:#ff6600"></i><i style="background:#ff7799"></i></div>
<div class="b" style="left:182px;width:11px"><i style="background:#cc0000"></i><i style="background:#ff0000"></i><i style="background:#ff6600"></i><i style="background:#ff7799"></i><i style="background:#ffc000"></i></div>
<div class="b" style="left:193px;width:31px"><i style="background:#cc0000"></i><i style="background:#ff0000"></i><i style="background:#ff6600"></i><i style="background:#ffc000"></i></div>
<div class="b" style="left:224px;width:11px"><i style="background:#cc0000"></i><i style="background:#ff0000"></i><i style="background:#ff6600"></i><i style="background:#ff8a36"></i><i style="background:#ffc000"></i></div>
<div class="b" style="left:235px;width:10px"><i style="background:#ffc000"></i><i style="background:#cc0000"></i><i style="background:#ff0000"></i><i style="background:#ff6600"></i><i style="background:#ff8a36"></i><i style="background:#ff7799"></i><i style="background:#ffc000"></i></div>
<div class="b" style="left:245px;width:10px"><i style="background:#cc0000"></i><i style="background:#ff0000"></i><i style="background:#e55a00"></i><i style="background:#9900cc"></i><i style="background:#660066"></i><i style="background:#00a650"></i><i style="background:#0066cc"></i></div>
<div class="b" style="left:255px;width:29px"><i style="background:#cc0000"></i><i style="background:#ff0000"></i><i style="background:#e55a00"></i><i style="background:#9900cc"></i><i style="background:#660066"></i><i style="background:#00a650"></i><i style="background:#0066cc"></i></div>
<div class="b" style="left:284px;width:19px"><i style="background:#cc0000"></i><i style="background:#ff0000"></i><i style="background:#ff6600"></i><i style="background:#aaff44"></i></div>
<div class="b" style="left:303px;width:63px"><i style="background:#ff6600"></i><i style="background:#ff8a36"></i><i style="background:#008c8c"></i><i style="background:#33bbaa"></i></div>
<div class="b" style="left:366px;width:3px"><i style="background:#ff00ff"></i><i style="background:#cc0099"></i></div>
<div class="b" style="left:369px;width:6px"><i style="background:#cc0000"></i><i style="background:#ff0000"></i><i style="background:#ff6600"></i></div>
<div class="b" style="left:375px;width:6px"><i style="background:#cc0000"></i><i style="background:#ff0000"></i><i style="background:#ff6600"></i></div>
<div class="b" style="left:381px;width:6px"><i style="background:#cc0000"></i><i style="background:#ff0000"></i><i style="background:#ff6600"></i></div>
<div class="b" style="left:387px;width:5px"><i style="background:#cc0000"></i><i style="background:#ff0000"></i><i style="background:#ff6600"></i></div>
<div class="b" style="left:392px;width:15px"><i style="background:#cc0000"></i><i style="background:#ff0000"></i><i style="background:#ff6600"></i></div>
<div class="b" style="left:407px;width:13px"><i style="background:#cc0000"></i><i style="background:#ff0000"></i><i style="background:#ff6600"></i></div>
<div class="b" style="left:420px;width:3px"><i style="background:#ffc000"></i><i style="background:#ff7799"></i></div>
<div class="b" style="left:423px;width:16px"><i style="background:#cc0000"></i><i style="background:#ff0000"></i><i style="background:#ff6600"></i><i style="background:#ff8a36"></i></div>
<div class="b" style="left:439px;width:16px"><i style="background:#cc0000"></i><i style="background:#ff0000"></i><i style="background:#ff6600"></i></div>
<div class="b" style="left:455px;width:3px"><i style="background:#cc0000"></i><i style="background:#ff6600"></i></div>
<div class="b" style="left:458px;width:25px"><i style="background:#ffc000"></i><i style="background:#ff7799"></i></div>
<div class="b" style="left:483px;width:23px"><i style="background:#ffc000"></i><i style="background:#ff5733"></i><i style="background:#ff7799"></i></div>
<div class="b" style="left:506px;width:16px"><i style="background:#ffc000"></i><i style="background:#cc0000"></i><i style="background:#ff5733"></i><i style="background:#ff6600"></i><i style="background:#ff7799"></i></div>
<div class="b n" style="left:522px;width:1px"><i style="background:#ffc000"></i><i style="background:#cc0000"></i><i style="background:#ff5733"></i><i style="background:#ff6600"></i><i style="background:#ff7799"></i></div>
<div class="b" style="left:523px;width:17px"><i style="background:#ffc000"></i><i style="background:#cc0000"></i><i style="background:#ff5733"></i><i style="background:#ff6600"></i><i style="background:#ff7799"></i></div>
<div class="b" style="left:540px;width:11px"><i style="background:#ffc000"></i><i style="background:#cc0000"></i><i style="background:#ff6600"></i><i style="background:#ff7799"></i></div>
<div class="b" style="left:551px;width:4px"><i style="background:#ffc000"></i><i style="background:#cc0000"></i><i style="background:#ff5733"></i><i style="background:#ff6600"></i><i style="background:#00ff00"></i><i style="background:#ff7799"></i></div>
<div class="b" style="left:555px;width:63px"><i style="background:#cc0000"></i><i style="background:#ff5733"></i><i style="background:#ff6600"></i><i style="background:#00ff00"></i></div>
<div class="b" style="left:618px;width:12px"><i style="background:#cc0000"></i><i style="background:#ff5733"></i><i style="background:#ff6600"></i></div>
<div class="b" style="left:630px;width:13px"><i style="background:#ffc000"></i><i style="background:#cc0000"></i><i style="background:#ff5733"></i><i style="background:#ff6600"></i><i style="background:#ff7799"></i></div>
<div class="b" style="left:643px;width:59px"><i style="background:#ff5733"></i><i style="background:#ff6600"></i><i style="background:#ff8a36"></i><i style="background:#008c8c"></i><i style="background:#33bbaa"></i></div>
<div class="b" style="left:702px;width:34px"><i style="background:#cc0000"></i><i style="background:#ff0000"></i><i style="background:#ff6600"></i><i style="background:#ff8a36"></i></div>
<div class="b" style="left:736px;width:22px"><i style="background:#cc0000"></i><i style="background:#ff0000"></i><i style="background:#ff6600"></i><i style="background:#9900cc"></i><i style="background:#660066"></i><i style="background:#ff7799"></i></div>
<div class="b" style="left:758px;width:16px"><i style="background:#aaff44"></i><i style="background:#00ff00"></i><i style="background:#ff00ff"></i><i style="background:#cc0099"></i><i style="background:#ff7799"></i></div>
<div class="b" style="left:774px;width:5px"><i style="background:#ff00ff"></i><i style="background:#cc0099"></i><i style="background:#00ff00"></i><i style="background:#aaff44"></i><i style="background:#ff7799"></i></div>
<div class="b" style="left:779px;width:10px"><i style="background:#00ff00"></i><i style="background:#ff00ff"></i><i style="background:#cc0099"></i><i style="background:#aaff44"></i><i style="background:#ff7799"></i></div>
<div class="b" style="left:789px;width:21px"><i style="background:#aaff44"></i><i style="background:#00ff00"></i><i style="background:#ff00ff"></i><i style="background:#cc0099"></i><i style="background:#ff7799"></i></div>
<div class="b" style="left:810px;width:29px"><i style="background:#cc0000"></i><i style="background:#ff0000"></i><i style="background:#ff6600"></i><i style="background:#ff8a36"></i><i style="background:#aaff44"></i><i style="background:#ff7799"></i></div>
<div class="b" style="left:839px;width:19px"><i style="background:#cc0000"></i><i style="background:#ff0000"></i><i style="background:#ff6600"></i><i style="background:#aaff44"></i></div>
<div class="b" style="left:858px;width:55px"><i style="background:#ffc000"></i><i style="background:#aaff44"></i><i style="background:#ff7799"></i></div>
<div class="b" style="left:913px;width:18px"><i style="background:#cc0000"></i><i style="background:#ff6600"></i><i style="background:#aaff44"></i><i style="background:#00ff00"></i></div>
<div class="b n" style="left:931px;width:1px"><i style="background:#ffc000"></i><i style="background:#00ff00"></i><i style="background:#aaff44"></i><i style="background:#ff7799"></i></div>
<div class="b" style="left:932px;width:8px"><i style="background:#cc0000"></i><i style="background:#ff6600"></i><i style="background:#aaff44"></i><i style="background:#00ff00"></i></div>
<div class="b" style="left:940px;width:41px"><i style="background:#cc0000"></i><i style="background:#ff6600"></i><i style="background:#aaff44"></i><i style="background:#00ff00"></i><i style="background:#008c8c"></i><i style="background:#33bbaa"></i></div>
<div class="b" style="left:981px;width:17px"><i style="background:#ffc000"></i><i style="background:#aaff44"></i><i style="background:#ff7799"></i></div>
<div class="b" style="left:998px;width:23px"><i style="background:#cc0000"></i><i style="background:#ff6600"></i><i style="background:#aaff44"></i></div>
<div class="b" style="left:1021px;width:34px"><i style="background:#cc0000"></i><i style="background:#ff6600"></i><i style="background:#aaff44"></i><i style="background:#ff7799"></i></div>
<div class="b" style="left:1055px;width:17px"><i style="background:#ffc000"></i><i style="background:#aaff44"></i><i style="background:#ff7799"></i></div>
<div class="b" style="left:1072px;width:18px"><i style="background:#cc0000"></i><i style="background:#ff6600"></i><i style="background:#aaff44"></i><i style="background:#ff7799"></i></div>
<div class="b" style="left:1090px;width:12px"><i style="background:#ffc000"></i><i style="background:#aaff44"></i><i style="background:#ff7799"></i></div>
<div class="b" style="left:1102px;width:28px"><i style="background:#ffc000"></i><i style="background:#ff5733"></i><i style="background:#ff7799"></i></div>
<div class="b" style="left:1130px;width:15px"><i style="background:#ffc000"></i><i style="background:#ff5733"></i><i style="background:#ff7799"></i></div>
<div class="b" style="left:1145px;width:5px"><i style="background:#cc0000"></i><i style="background:#ff5733"></i><i style="background:#ff6600"></i><i style="background:#ff00ff"></i></div>
<div class="b" style="left:1150px;width:45px"><i style="background:#ff0000"></i><i style="background:#ff8a36"></i><i style="background:#008c8c"></i><i style="background:#33bbaa"></i><i style="background:#aaff44"></i></div>
<div class="b" style="left:1195px;width:25px"><i style="background:#ffc000"></i><i style="background:#cc0000"></i><i style="background:#ff5733"></i><i style="background:#ff6600"></i><i style="background:#aaff44"></i></div>
<div class="b" style="left:1220px;width:12px"><i style="background:#ff00ff"></i><i style="background:#cc0099"></i><i style="background:#aaff44"></i></div>
<div class="b" style="left:1232px;width:30px"><i style="background:#aaff44"></i><i style="background:#00ff00"></i><i style="background:#ff00ff"></i><i style="background:#cc0099"></i></div>
<div class="b" style="left:1262px;width:42px"><i style="background:#cc0000"></i><i style="background:#ff6600"></i><i style="background:#aaff44"></i><i style="background:#00ff00"></i></div>
<div class="b" style="left:1304px;width:16px"><i style="background:#ffc000"></i><i style="background:#aaff44"></i><i style="background:#ff7799"></i></div>
<div class="b" style="left:1320px;width:21px"><i style="background:#cc0000"></i><i style="background:#ff6600"></i><i style="background:#aaff44"></i><i style="background:#00ff00"></i></div>
<div class="b" style="left:1341px;width:16px"><i style="background:#cc0000"></i><i style="background:#ff6600"></i><i style="background:#aaff44"></i></div>
<div class="b" style="left:1357px;width:28px"><i style="background:#cc0000"></i><i style="background:#ff0000"></i><i style="background:#ff6600"></i><i style="background:#ff8a36"></i></div>
<div class="b" style="left:1385px;width:14px"><i style="background:#ffc000"></i><i style="background:#aaff44"></i><i style="background:#ff7799"></i></div>
<div class="b" style="left:1399px;width:36px"><i style="background:#cc0000"></i><i style="background:#ff0000"></i><i style="background:#ff5733"></i><i style="background:#ff6600"></i></div>
<div class="b n" style="left:1435px;width:2px"><i style="background:#cc0000"></i><i style="background:#ff5733"></i><i style="background:#ff6600"></i></div>
<div class="b" style="left:1437px;width:33px"><i style="background:#ffc000"></i><i style="background:#ff5733"></i><i style="background:#ff7799"></i></div>
<div class="b" style="left:1470px;width:13px"><i style="background:#ffc000"></i><i style="background:#aaff44"></i><i style="background:#ff7799"></i></div>
<div class="b" style="left:1483px;width:22px"><i style="background:#ffc000"></i><i style="background:#ff5733"></i><i style="background:#ff7799"></i></div>
<div class="b" style="left:1505px;width:7px"><i style="background:#ffc000"></i><i style="background:#ff7799"></i></div>
<div class="b" style="left:1512px;width:34px"><i style="background:#cc0000"></i><i style="background:#ff5733"></i><i style="background:#ff6600"></i><i style="background:#ff8a36"></i><i style="background:#008c8c"></i><i style="background:#33bbaa"></i></div>
<div class="b" style="left:1546px;width:36px"><i style="background:#ffc000"></i><i style="background:#aaff44"></i><i style="background:#ff7799"></i></div>
<div class="b" style="left:1582px;width:31px"><i style="background:#cc0000"></i><i style="background:#ff0000"></i><i style="background:#ff6600"></i><i style="background:#aaff44"></i></div>
<div class="b" style="left:1613px;width:33px"><i style="background:#cc0000"></i><i style="background:#ff0000"></i><i style="background:#ff6600"></i><i style="background:#aaff44"></i><i style="background:#ff7799"></i></div>
<div class="b" style="left:1646px;width:20px"><i style="background:#ffc000"></i><i style="background:#aaff44"></i><i style="background:#ff7799"></i></div>
<div class="b n" style="left:1666px;width:1px"><i style="background:#cc0000"></i><i style="background:#ff6600"></i><i style="background:#00ff00"></i></div>
<div class="b" style="left:1667px;width:11px"><i style="background:#cc0000"></i><i style="background:#ff0000"></i><i style="background:#ff6600"></i><i style="background:#00ff00"></i></div>
<div class="b" style="left:1678px;width:10px"><i style="background:#ffc000"></i><i style="background:#cc0000"></i><i style="background:#ff0000"></i><i style="background:#ff6600"></i><i style="background:#ff7799"></i></div>
<div class="b" style="left:1688px;width:4px"><i style="background:#cc0000"></i><i style="background:#ff0000"></i><i style="background:#ff6600"></i><i style="background:#00ff00"></i><i style="background:#008c8c"></i><i style="background:#33bbaa"></i></div>
<div class="b" style="left:1692px;width:3px"><i style="background:#ffc000"></i><i style="background:#ff0000"></i><i style="background:#00ff00"></i><i style="background:#008c8c"></i><i style="background:#33bbaa"></i></div>
<div class="b" style="left:1695px;width:3px"><i style="background:#ffc000"></i><i style="background:#00ff00"></i></div>
<div class="b" style="left:1698px;width:4px"><i style="background:#ffc000"></i><i style="background:#aaff44"></i><i style="background:#00ff00"></i><i style="background:#ff00ff"></i><i style="background:#cc0099"></i></div>
<div class="b" style="left:1702px;width:7px"><i style="background:#aaff44"></i><i style="background:#00ff00"></i><i style="background:#ff00ff"></i><i style="background:#cc0099"></i></div>
<div class="b" style="left:1709px;width:10px"><i style="background:#ffc000"></i><i style="background:#aaff44"></i><i style="background:#00ff00"></i><i style="background:#ff00ff"></i><i style="background:#cc0099"></i></div>
<div class="b" style="left:1719px;width:3px"><i style="background:#aaff44"></i><i style="background:#00ff00"></i><i style="background:#ff00ff"></i><i style="background:#cc0099"></i></div>
<div class="b" style="left:1722px;width:6px"><i style="background:#ff00ff"></i><i style="background:#cc0099"></i><i style="background:#aaff44"></i></div>
<div class="b" style="left:1728px;width:7px"><i style="background:#ffc000"></i><i style="background:#aaff44"></i><i style="background:#ff7799"></i></div>
<div class="b" style="left:1735px;width:41px"><i style="background:#cc0000"></i><i style="background:#ff6600"></i><i style="background:#ff8a36"></i><i style="background:#aaff44"></i><i style="background:#008c8c"></i><i style="background:#33bbaa"></i></div>
<div class="b" style="left:1776px;width:30px"><i style="background:#cc0000"></i><i style="background:#ff0000"></i><i style="background:#ff6600"></i><i style="background:#aaff44"></i></div>
<div class="b" style="left:1806px;width:98px"><i style="background:#cc0000"></i></div>
<div class="lb" style="left:1806.1px;width:70.9px;font-size:9.0px">(Not all</div>
</div></div>
<div class="dots" style="top:1300px"></div>
<div class="rs">RADIO SERVICES</div>
<div class="dash" style="left:176.7px;top:1333px;width:1354px"></div>
<div class="lg" style="left:22px;top:1365.0px"><i style="background:#00a650"></i><span>AERONAUTICAL MOBILE</span></div>
<div class="lg" style="left:496px;top:1365.0px"><i style="background:#238a35"></i><span>AERONAUTICAL MOBILE-SATELLITE</span></div>
<div class="lg" style="left:971px;top:1365.0px"><i style="background:#00bfa8"></i><span>AERONAUTICAL RADIONAVIGATION</span></div>
<div class="lg" style="left:1445px;top:1365.0px"><i style="background:#ff00ff"></i><span>AMATEUR</span></div>
<div class="lg" style="left:22px;top:1393.8px"><i style="background:#cc0099"></i><span>AMATEUR-SATELLITE</span></div>
<div class="lg" style="left:496px;top:1393.8px"><i style="background:#9900cc"></i><span>BROADCASTING</span></div>
<div class="lg" style="left:971px;top:1393.8px"><i style="background:#660066"></i><span>BROADCASTING-SATELLITE</span></div>
<div class="lg" style="left:1445px;top:1393.8px"><i style="background:#ffc000"></i><span>EARTH EXPLORATION-SATELLITE</span></div>
<div class="lg" style="left:22px;top:1422.6px"><i style="background:#cc0000"></i><span>FIXED</span></div>
<div class="lg" style="left:496px;top:1422.6px"><i style="background:#ff0000"></i><span>FIXED-SATELLITE</span></div>
<div class="lg" style="left:971px;top:1422.6px"><i style="background:#ff5733"></i><span>INTER-SATELLITE</span></div>
<div class="lg" style="left:1445px;top:1422.6px"><i style="background:#e55a00"></i><span>LAND MOBILE</span></div>
<div class="lg" style="left:22px;top:1451.4px"><i style="background:#0066cc"></i><span>MARITIME MOBILE</span></div>
<div class="lg" style="left:496px;top:1451.4px"><i style="background:#0000ff"></i><span>MARITIME MOBILE-SATELLITE</span></div>
<div class="lg" style="left:971px;top:1451.4px"><i style="background:#007a8a"></i><span>MARITIME RADIONAVIGATION</span></div>
<div class="lg" style="left:1445px;top:1451.4px"><i style="background:#666600"></i><span>METEOROLOGICAL AIDS</span></div>
<div class="lg" style="left:22px;top:1480.2px"><i style="background:#998c33"></i><span>METEOROLOGICAL-SATELLITE</span></div>
<div class="lg" style="left:496px;top:1480.2px"><i style="background:#ff6600"></i><span>MOBILE</span></div>
<div class="lg" style="left:971px;top:1480.2px"><i style="background:#ff8a36"></i><span>MOBILE-SATELLITE</span></div>
<div class="lg" style="left:1445px;top:1480.2px"><i style="background:#aaff44"></i><span>RADIO ASTRONOMY</span></div>
<div class="lg" style="left:22px;top:1509.0px"><i style="background:#00ccdd"></i><span>RADIODETERMINATION-SATELLITE</span></div>
<div class="lg" style="left:496px;top:1509.0px"><i style="background:#00ff00"></i><span>RADIOLOCATION</span></div>
<div class="lg" style="left:971px;top:1509.0px"><i style="background:#008c8c"></i><span>RADIONAVIGATION</span></div>
<div class="lg" style="left:1445px;top:1509.0px"><i style="background:#33bbaa"></i><span>RADIONAVIGATION-SATELLITE</span></div>
<div class="lg" style="left:22px;top:1537.8px"><i style="background:#ffaa88"></i><span>SPACE OPERATION</span></div>
<div class="lg" style="left:496px;top:1537.8px"><i style="background:#ff7799"></i><span>SPACE RESEARCH</span></div>
<div class="lg" style="left:971px;top:1537.8px"><i style="background:#ffff00"></i><span>STANDARD FREQUENCY AND TIME SIGNAL</span></div>
<div class="lg" style="left:1445px;top:1537.8px"><i style="background:#cccc00"></i><span>STANDARD FREQUENCY AND TIME SIGNAL-SATELLITE</span></div>
<div class="dash" style="left:22px;top:1591px;width:17px"></div>
<div class="ft" style="left:51px;color:#8a8a8a">v0.1 <span style="color:#444">·</span> DATA:ITU-RR-2024 <span style="color:#444">·</span> <span style="color:#555">MAY NOT BE FULLY ACCURATE</span></div>
<div class="dash" style="left:524px;top:1591px;width:676px"></div>
<div class="ft" style="right:52px;color:#8a8a8a">BY:<span style="color:#00e5ff">VDESMOND</span></div>
<div class="dash" style="left:1881px;top:1591px;width:17px"></div>
</body></html>
